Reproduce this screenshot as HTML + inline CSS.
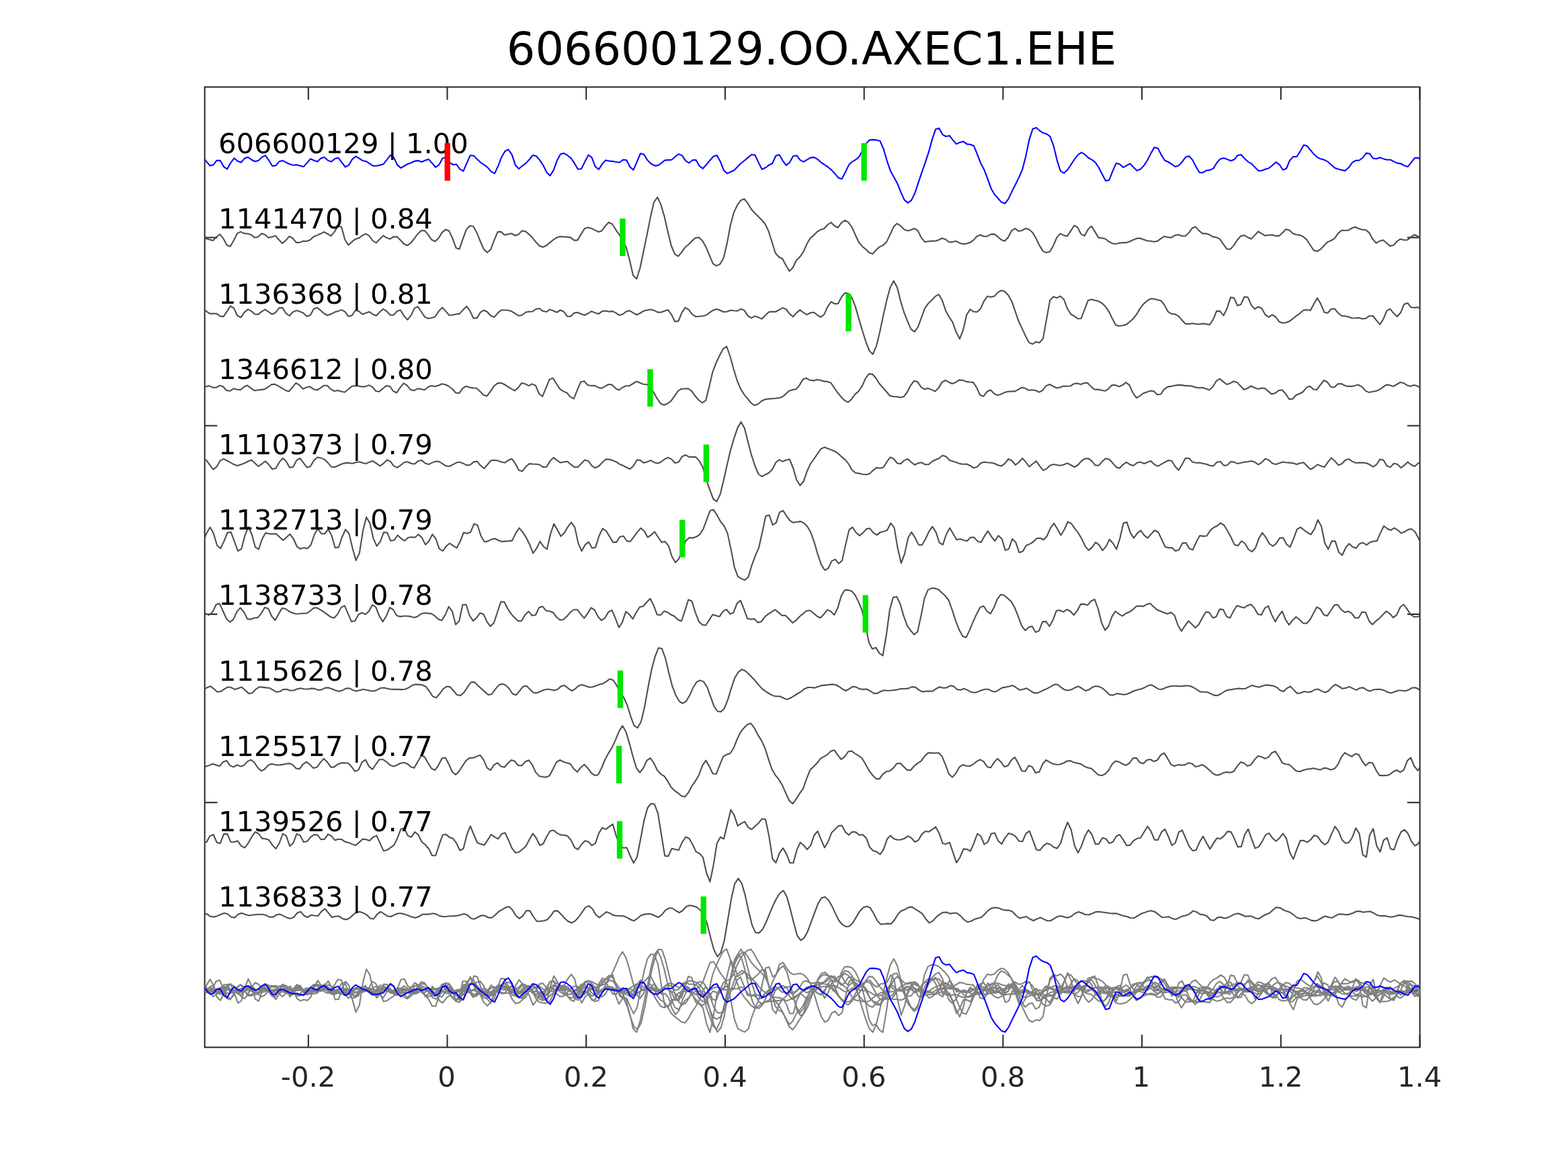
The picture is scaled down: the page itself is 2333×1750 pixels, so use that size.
<!DOCTYPE html>
<html lang="en"><head><meta charset="utf-8"><title>606600129.OO.AXEC1.EHE</title>
<style>html,body{margin:0;padding:0;background:#fff;overflow:hidden}svg{display:block}text{font-family:"DejaVu Sans","Liberation Sans",sans-serif}.ax{fill:none;stroke:#262626;stroke-width:2}.tl{font-size:41.67px;fill:#262626;text-anchor:middle}.lb{font-size:41.67px;fill:#000}.ti{font-size:66.9px;fill:#000;text-anchor:middle}.tr{fill:none;stroke:#4d4d4d;stroke-width:2.08;stroke-linejoin:round;stroke-linecap:butt}.bl{fill:none;stroke:#0000ff;stroke-width:2.08;stroke-linejoin:round;stroke-linecap:butt}.ov{fill:none;stroke:#808080;stroke-width:2.08;stroke-linejoin:round;stroke-linecap:butt}.gm{stroke:#00e600;stroke-width:8.33;fill:none}.rm{stroke:#ff0000;stroke-width:8.33;fill:none}</style></head><body>
<svg width="2333" height="1750" viewBox="0 0 2333 1750">
<rect width="2333" height="1750" fill="#fff"/>
<clipPath id="c"><rect x="304.6" y="129.6" width="1808.0" height="1428.9"/></clipPath>
<path class="ax" d="M304.6,129.6H2112.6V1558.5H304.6Z"/>
<path class="ax" d="M458.8,1558.5v-18.8M458.8,129.6v18.8M665.5,1558.5v-18.8M665.5,129.6v18.8M872.2,1558.5v-18.8M872.2,129.6v18.8M1078.9,1558.5v-18.8M1078.9,129.6v18.8M1285.7,1558.5v-18.8M1285.7,129.6v18.8M1492.4,1558.5v-18.8M1492.4,129.6v18.8M1699.1,1558.5v-18.8M1699.1,129.6v18.8M1905.8,1558.5v-18.8M1905.8,129.6v18.8M2112.5,1558.5v-18.8M2112.5,129.6v18.8M304.6,353.4h18.8M2112.6,353.4h-18.8M304.6,633.6h18.8M2112.6,633.6h-18.8M304.6,913.9h18.8M2112.6,913.9h-18.8M304.6,1194.2h18.8M2112.6,1194.2h-18.8M304.6,1474.4h18.8M2112.6,1474.4h-18.8"/>
<text class="tl" x="458.5" y="1616.6">-0.2</text>
<text class="tl" x="664.4" y="1616.6">0</text>
<text class="tl" x="871.9" y="1616.6">0.2</text>
<text class="tl" x="1078.6" y="1616.6">0.4</text>
<text class="tl" x="1285.4" y="1616.6">0.6</text>
<text class="tl" x="1492.1" y="1616.6">0.8</text>
<text class="tl" x="1698.0" y="1616.6">1</text>
<text class="tl" x="1905.5" y="1616.6">1.2</text>
<text class="tl" x="2112.2" y="1616.6">1.4</text>
<text class="ti" x="1207.5" y="96.0">606600129.OO.AXEC1.EHE</text>
<g clip-path="url(#c)">
<polyline class="bl" points="304.6,237.3 312.2,246.4 317.4,245.4 322.5,238.7 327.7,238.9 332.9,248.1 338.0,251.6 343.2,242.3 348.4,235.4 353.5,239.8 358.7,241.8 363.9,235.6 369.0,233.9 374.2,237.7 379.4,240.2 384.5,238.9 389.7,233.9 394.9,231.4 400.0,238.7 405.2,247.0 410.4,246.4 415.5,240.2 420.7,239.1 425.9,241.8 431.0,244.3 436.2,245.8 441.4,245.2 446.5,246.8 451.7,248.1 456.9,242.3 462.0,236.4 467.2,238.7 472.4,240.6 477.5,235.6 482.7,233.9 487.9,238.7 493.0,240.6 498.2,236.2 503.4,234.8 508.5,241.6 513.7,248.5 518.9,245.8 524.0,237.1 529.2,232.7 534.4,235.6 539.5,239.1 544.7,240.2 549.9,243.3 555.0,246.8 560.2,246.8 565.4,245.8 570.5,244.3 575.7,237.7 580.9,230.8 586.0,234.6 591.2,245.4 596.4,250.0 601.5,247.0 606.7,243.9 611.9,242.3 617.0,239.8 622.2,239.1 627.4,241.0 632.5,238.7 637.7,236.9 642.9,242.7 648.0,248.9 653.2,245.4 658.4,235.6 663.5,234.4 668.7,241.8 673.9,245.0 679.0,244.5 684.2,251.6 689.4,254.7 694.5,242.9 699.7,231.2 704.9,231.7 710.0,237.1 715.2,241.8 720.4,245.4 725.5,249.1 730.7,255.4 735.9,258.1 741.0,247.5 746.2,233.9 751.4,225.0 756.5,222.5 761.7,230.2 766.9,245.8 772.0,251.2 777.2,246.8 782.4,242.9 787.5,237.5 792.7,231.0 797.9,232.3 803.0,238.1 808.2,246.0 813.4,256.4 818.5,261.4 823.7,253.1 828.9,238.7 834.0,229.2 839.2,228.1 844.4,231.2 849.5,235.4 854.7,242.9 859.9,251.8 865.0,251.2 870.2,240.8 875.4,230.6 880.5,234.4 885.7,247.9 890.9,252.2 896.0,243.9 901.2,238.5 906.4,239.6 911.5,240.0 916.7,241.0 921.9,241.8 927.0,237.7 932.2,238.3 937.4,248.5 942.5,252.9 947.7,240.8 952.9,228.5 958.0,229.8 963.2,238.1 968.4,243.5 973.5,246.4 978.7,246.4 983.9,242.9 989.0,238.5 994.2,238.1 999.4,237.7 1004.5,233.3 1009.7,229.2 1014.9,231.4 1020.0,239.1 1025.2,242.5 1030.4,238.3 1035.5,238.1 1040.7,247.2 1045.9,250.8 1051.0,245.0 1056.2,238.7 1061.4,232.7 1066.5,231.0 1071.7,240.2 1076.9,253.7 1082.0,258.1 1087.2,255.8 1092.4,253.3 1097.5,248.1 1102.7,242.7 1107.9,238.7 1113.0,234.4 1118.2,230.0 1123.4,230.8 1128.5,241.6 1133.7,252.0 1138.9,249.5 1144.0,245.8 1149.2,243.3 1154.4,231.7 1159.5,230.2 1164.7,239.3 1169.9,246.0 1175.0,241.6 1180.2,232.3 1185.4,231.4 1190.5,238.1 1195.7,240.8 1200.9,237.7 1206.0,234.6 1211.2,234.1 1216.4,236.9 1221.5,241.6 1226.7,245.2 1231.9,248.5 1237.0,252.9 1242.2,258.3 1247.4,264.7 1252.5,266.2 1257.7,256.4 1262.9,245.6 1268.0,240.6 1273.2,237.7 1278.4,232.9 1283.5,223.5 1288.7,213.6 1293.9,208.2 1299.0,207.9 1304.2,208.4 1309.4,209.8 1314.5,221.5 1319.7,239.1 1324.9,254.3 1330.0,263.5 1335.2,273.0 1340.4,285.9 1345.5,297.4 1350.7,301.9 1355.9,298.4 1361.0,288.0 1366.2,272.4 1371.4,256.8 1376.5,242.3 1381.7,226.7 1386.9,207.9 1392.0,192.4 1397.2,190.7 1402.4,200.3 1407.5,203.0 1412.7,201.9 1417.9,208.6 1423.0,214.4 1428.2,211.9 1433.4,210.6 1438.5,214.4 1443.7,215.0 1448.9,216.9 1454.0,229.4 1459.2,242.9 1464.4,252.7 1469.5,266.2 1474.7,280.7 1479.9,289.5 1485.0,295.3 1490.2,301.1 1495.4,302.8 1500.5,295.9 1505.7,284.9 1510.9,274.5 1516.0,264.1 1521.2,252.2 1526.4,231.9 1531.5,207.3 1536.7,191.7 1541.9,189.9 1547.0,194.6 1552.2,197.8 1557.4,199.4 1562.5,203.2 1567.7,217.3 1572.9,239.1 1578.0,254.7 1583.2,257.6 1588.4,252.7 1593.5,245.0 1598.7,237.1 1603.9,230.4 1609.0,226.9 1614.2,229.8 1619.4,235.0 1624.5,237.7 1629.7,241.6 1634.9,249.5 1640.0,259.5 1645.2,269.3 1650.4,267.8 1655.5,254.7 1660.7,242.9 1665.9,244.3 1671.0,249.1 1676.2,246.4 1681.4,243.5 1686.5,248.9 1691.7,253.9 1696.9,251.8 1702.0,246.4 1707.2,238.5 1712.4,228.1 1717.5,219.4 1722.7,220.4 1727.9,230.4 1733.0,238.7 1738.2,241.0 1743.4,244.3 1748.5,247.9 1753.7,246.6 1758.9,240.8 1764.0,233.9 1769.2,232.3 1774.4,238.1 1779.5,248.1 1784.7,256.8 1789.9,256.8 1795.0,253.7 1800.2,253.1 1805.4,250.6 1810.5,242.3 1815.7,236.4 1820.9,235.2 1826.0,237.1 1831.2,239.3 1836.4,237.5 1841.5,231.2 1846.7,230.2 1851.9,236.0 1857.0,240.8 1862.2,243.7 1867.4,249.1 1872.5,254.3 1877.7,253.7 1882.9,251.8 1888.0,250.2 1893.2,246.0 1898.4,241.2 1903.5,244.8 1908.7,252.7 1913.9,251.0 1919.0,238.7 1924.2,233.1 1929.4,233.3 1934.5,225.2 1939.7,215.8 1944.9,217.3 1950.0,223.5 1955.2,229.8 1960.4,234.4 1965.5,236.6 1970.7,238.1 1975.9,240.8 1981.0,245.4 1986.2,250.0 1991.4,251.8 1996.5,253.1 2001.7,253.9 2006.9,249.1 2012.0,241.8 2017.2,238.9 2022.4,238.5 2027.5,235.0 2032.7,227.9 2037.9,228.7 2043.0,235.6 2048.2,236.2 2053.4,234.4 2058.5,236.4 2063.7,237.7 2068.9,237.7 2074.0,240.6 2079.2,242.9 2084.4,243.5 2089.5,246.6 2094.7,248.1 2099.9,241.6 2105.0,235.0 2110.2,234.8 2112.6,237.1"/>
<polyline class="tr" points="304.6,353.8 306.5,355.1 311.6,356.5 316.8,358.0 322.0,352.8 327.1,348.6 332.3,354.9 337.5,364.7 342.6,366.7 347.8,357.8 353.0,347.4 358.1,344.9 363.3,347.4 368.5,347.8 373.6,349.3 378.8,353.6 384.0,352.4 389.1,347.4 394.3,349.3 399.5,353.8 404.6,352.6 409.8,350.9 415.0,356.8 420.1,362.2 425.3,357.6 430.5,351.6 435.6,354.5 440.8,360.9 446.0,360.9 451.1,358.8 456.3,359.0 461.5,357.0 466.6,352.2 471.8,350.1 477.0,347.8 482.1,345.1 487.3,348.0 492.5,351.1 497.6,344.9 502.8,336.6 508.0,337.6 513.1,356.3 518.3,364.7 523.5,359.9 528.6,355.9 533.8,354.3 539.0,350.5 544.1,347.8 549.3,350.9 554.5,358.0 559.6,361.5 564.8,355.9 570.0,350.7 575.1,353.6 580.3,355.7 585.5,352.4 590.6,352.2 595.8,357.2 601.0,363.0 606.1,365.3 611.3,361.5 616.5,354.9 621.6,348.0 626.8,343.0 632.0,343.4 637.1,349.3 642.3,356.8 647.5,359.2 652.6,354.3 657.8,345.9 663.0,341.6 668.1,343.4 673.3,354.7 678.5,369.0 683.6,370.7 688.8,355.3 694.0,341.4 699.1,336.0 704.3,337.0 709.5,346.4 714.6,359.0 719.8,370.9 725.0,375.7 730.1,371.3 735.3,357.4 740.5,345.1 745.6,344.9 750.8,349.7 756.0,348.4 761.1,347.4 766.3,350.5 771.5,348.9 776.6,343.4 781.8,344.3 787.0,348.6 792.1,353.8 797.3,360.1 802.5,365.7 807.6,367.8 812.8,365.5 818.0,361.1 823.1,357.0 828.3,353.6 833.5,352.0 838.7,352.4 843.8,352.6 849.0,353.4 854.2,357.6 859.3,357.4 864.5,348.6 869.7,340.3 874.8,338.5 880.0,339.9 885.2,342.4 890.3,345.1 895.5,343.4 900.7,336.2 905.8,330.8 911.0,333.5 916.2,341.8 921.3,349.1 926.5,358.4 931.7,367.8 936.8,386.9 942.0,409.8 947.2,415.0 952.3,399.0 957.5,374.0 962.7,349.1 967.8,323.1 973.0,300.8 978.2,293.5 983.3,304.4 988.5,322.0 993.7,344.9 998.8,365.7 1004.0,378.2 1009.2,381.3 1014.3,375.1 1019.5,367.8 1024.7,363.8 1029.8,358.4 1035.0,353.8 1040.2,353.6 1045.3,358.4 1050.5,367.8 1055.7,380.2 1060.8,392.3 1066.0,395.6 1071.2,393.1 1076.3,384.8 1081.5,363.6 1086.7,335.5 1091.8,316.4 1097.0,305.4 1102.2,298.1 1107.3,296.0 1112.5,302.3 1117.7,311.2 1122.8,316.8 1128.0,322.0 1133.2,327.2 1138.3,333.0 1143.5,343.9 1148.7,360.5 1153.8,376.7 1159.0,382.5 1164.2,385.0 1169.3,394.8 1174.5,403.5 1179.7,398.3 1184.8,387.5 1190.0,382.3 1195.2,375.1 1200.3,363.6 1205.5,354.5 1210.7,350.1 1215.8,344.9 1221.0,341.8 1226.2,340.3 1231.3,334.5 1236.5,331.0 1241.7,336.2 1246.8,338.7 1252.0,331.4 1257.2,327.8 1262.3,330.8 1267.5,338.0 1272.7,349.7 1277.8,360.5 1283.0,366.7 1288.2,370.9 1293.3,376.1 1298.5,377.8 1303.7,371.9 1308.8,367.1 1314.0,365.1 1319.2,359.9 1324.3,349.1 1329.5,337.6 1334.7,332.6 1339.8,336.0 1345.0,341.2 1350.2,343.4 1355.3,342.2 1360.5,339.9 1365.7,343.4 1370.8,353.8 1376.0,359.9 1381.2,359.2 1386.3,358.6 1391.5,358.8 1396.7,357.0 1401.8,354.5 1407.0,356.3 1412.2,360.5 1417.3,359.9 1422.5,358.8 1427.7,361.5 1432.8,363.2 1438.0,362.6 1443.2,361.1 1448.3,357.4 1453.5,351.8 1458.7,349.5 1463.8,351.8 1469.0,351.6 1474.2,348.6 1479.3,348.4 1484.5,352.2 1489.7,356.8 1494.8,358.8 1500.0,353.2 1505.2,343.2 1510.3,340.1 1515.5,343.9 1520.7,343.0 1525.8,339.9 1531.0,341.2 1536.2,345.9 1541.3,354.3 1546.5,365.1 1551.7,373.6 1556.8,376.1 1562.0,374.6 1567.2,365.7 1572.3,353.6 1577.5,347.6 1582.7,350.1 1587.8,351.6 1593.0,343.9 1598.2,335.7 1603.3,338.2 1608.5,348.4 1613.7,350.9 1618.8,341.4 1624.0,336.6 1629.2,344.9 1634.3,353.6 1639.5,354.3 1644.7,355.5 1649.8,359.5 1655.0,362.2 1660.2,363.0 1665.3,361.7 1670.5,361.1 1675.7,361.1 1680.8,359.5 1686.0,357.0 1691.2,354.9 1696.3,354.5 1701.5,356.5 1706.7,358.2 1711.8,358.8 1717.0,359.7 1722.2,358.8 1727.3,354.9 1732.5,351.8 1737.7,353.0 1742.8,353.6 1748.0,350.3 1753.2,349.3 1758.3,351.1 1763.5,351.3 1768.7,346.6 1773.8,339.5 1779.0,337.6 1784.2,343.4 1789.3,347.6 1794.5,347.6 1799.7,349.3 1804.8,352.4 1810.0,353.2 1815.2,355.9 1820.3,363.6 1825.5,370.7 1830.7,370.7 1835.8,365.1 1841.0,357.0 1846.2,351.3 1851.3,350.1 1856.5,353.2 1861.7,355.5 1866.8,350.1 1872.0,344.5 1877.2,347.6 1882.3,350.7 1887.5,349.7 1892.7,349.5 1897.8,350.9 1903.0,351.1 1908.2,346.4 1913.3,341.2 1918.5,342.6 1923.7,347.6 1928.8,349.3 1934.0,349.9 1939.2,352.2 1944.3,356.8 1949.5,364.7 1954.7,372.6 1959.8,374.0 1965.0,370.9 1970.2,365.3 1975.3,360.1 1980.5,358.0 1985.7,354.9 1990.8,347.4 1996.0,342.8 2001.2,343.0 2006.3,342.6 2011.5,339.5 2016.7,337.8 2021.8,340.3 2027.0,341.8 2032.2,342.2 2037.3,346.4 2042.5,355.9 2047.7,361.7 2052.8,358.8 2058.0,357.2 2063.2,361.7 2068.3,366.1 2073.5,364.9 2078.7,359.0 2083.8,355.7 2089.0,357.2 2094.2,357.0 2099.3,352.6 2104.5,349.3 2109.7,351.8 2112.6,353.6"/>
<polyline class="tr" points="304.6,461.7 306.7,462.9 311.8,466.7 317.0,466.5 322.2,466.7 327.3,470.4 332.5,471.2 337.7,463.6 342.8,455.4 348.0,458.6 353.2,469.8 358.3,472.3 363.5,464.8 368.7,460.4 373.8,462.9 379.0,467.5 384.2,467.9 389.3,463.6 394.5,460.6 399.7,464.2 404.8,467.7 410.0,465.2 415.2,458.4 420.3,457.9 425.5,466.3 430.7,470.0 435.8,464.2 441.0,462.1 446.2,463.6 451.3,465.8 456.5,470.8 461.7,469.0 466.8,459.8 472.0,457.7 477.2,462.1 482.3,466.7 487.5,469.2 492.7,467.3 497.8,464.6 503.0,463.1 508.2,461.1 513.3,463.8 518.5,470.8 523.7,469.4 528.8,461.7 534.0,463.3 539.2,467.7 544.3,465.8 549.5,464.0 554.7,467.7 559.8,469.8 565.0,464.2 570.2,459.8 575.3,463.1 580.5,468.8 585.7,468.8 590.8,463.1 596.0,461.5 601.2,470.4 606.3,475.8 611.5,469.4 616.7,458.6 621.8,456.3 627.0,464.2 632.2,471.9 637.3,474.0 642.5,473.1 647.7,471.0 652.8,463.1 658.0,457.5 663.2,463.1 668.3,469.0 673.5,468.8 678.7,467.5 683.8,466.9 689.0,461.1 694.2,455.9 699.3,462.7 704.5,473.7 709.7,473.1 714.8,464.8 720.0,461.7 725.2,464.2 730.3,470.0 735.5,471.9 740.7,465.6 745.8,461.5 751.0,461.5 756.2,461.8 761.3,463.3 766.5,466.7 771.7,469.8 776.8,469.0 782.0,464.8 787.2,463.8 792.3,463.6 797.5,460.0 802.7,459.0 807.8,463.1 813.0,464.0 818.2,460.6 823.3,462.5 828.5,464.8 833.7,461.5 838.9,463.8 844.0,470.8 849.2,470.8 854.4,465.6 859.5,465.0 864.7,467.3 869.9,469.0 875.0,466.5 880.2,463.1 885.4,465.6 890.5,467.1 895.7,463.3 900.9,462.5 906.0,463.8 911.2,463.1 916.4,465.6 921.5,469.2 926.7,467.5 931.9,463.6 937.0,462.3 942.2,465.6 947.4,468.5 952.5,466.0 957.7,462.7 962.9,461.5 968.0,460.4 973.2,461.9 978.4,464.6 983.5,464.8 988.7,462.7 993.9,461.1 999.0,467.9 1004.2,478.5 1009.4,477.9 1014.5,465.2 1019.7,457.7 1024.9,461.1 1030.0,467.9 1035.2,471.2 1040.4,470.8 1045.5,470.2 1050.7,469.0 1055.9,465.2 1061.0,461.7 1066.2,460.0 1071.4,461.7 1076.5,464.2 1081.7,463.8 1086.9,461.7 1092.0,462.3 1097.2,462.7 1102.4,459.8 1107.5,461.9 1112.7,470.0 1117.9,473.1 1123.0,470.6 1128.2,472.1 1133.4,474.6 1138.5,469.4 1143.7,464.4 1148.9,463.8 1154.0,464.0 1159.2,461.1 1164.4,458.1 1169.5,460.0 1174.7,466.9 1179.9,471.2 1185.0,465.6 1190.2,461.1 1195.4,465.2 1200.5,468.4 1205.7,465.5 1210.9,464.8 1216.0,468.8 1221.2,471.9 1226.4,467.7 1231.5,456.3 1236.7,449.0 1241.9,452.1 1247.0,451.7 1252.2,441.7 1257.4,435.7 1262.5,437.1 1267.7,443.4 1272.9,456.9 1278.0,474.6 1283.2,492.2 1288.4,508.9 1293.5,522.0 1298.7,527.2 1303.9,515.1 1309.0,494.3 1314.2,469.4 1319.4,446.5 1324.5,427.8 1329.7,418.0 1334.9,427.8 1340.0,448.0 1345.2,465.2 1350.4,478.3 1355.5,489.8 1360.7,493.7 1365.9,486.6 1371.0,472.5 1376.2,458.4 1381.4,451.3 1386.5,446.5 1391.7,440.9 1396.9,438.2 1402.0,447.1 1407.2,462.7 1412.4,471.9 1417.5,479.8 1422.7,494.3 1427.9,504.3 1433.0,491.2 1438.2,468.8 1443.4,460.4 1448.5,463.8 1453.7,464.2 1458.9,459.4 1464.0,448.2 1469.2,440.9 1474.4,441.9 1479.5,440.7 1484.7,435.1 1489.9,432.2 1495.0,433.8 1500.2,439.2 1505.4,448.6 1510.5,463.1 1515.7,478.3 1520.9,489.1 1526.0,500.2 1531.2,509.9 1536.4,512.0 1541.5,508.7 1546.7,509.9 1551.9,504.1 1557.0,475.6 1562.2,446.9 1567.4,441.5 1572.5,443.4 1577.7,440.7 1582.9,445.5 1588.0,459.0 1593.2,467.5 1598.4,470.4 1603.5,474.2 1608.7,474.0 1613.9,460.0 1619.0,446.9 1624.2,445.5 1629.4,447.1 1634.5,448.2 1639.7,451.3 1644.9,456.3 1650.0,463.8 1655.2,474.6 1660.4,483.9 1665.5,485.0 1670.7,484.3 1675.9,482.9 1681.0,478.7 1686.2,474.0 1691.4,467.3 1696.5,458.6 1701.7,452.1 1706.9,447.5 1712.0,444.6 1717.2,444.8 1722.4,446.3 1727.5,447.5 1732.7,454.2 1737.9,463.8 1743.0,467.1 1748.2,467.5 1753.4,470.4 1758.5,476.2 1763.7,481.9 1768.9,482.3 1774.0,481.2 1779.2,482.1 1784.4,482.5 1789.5,481.6 1794.7,482.3 1799.9,483.1 1805.0,475.6 1810.2,462.9 1815.4,463.1 1820.5,469.6 1825.7,459.0 1830.9,442.6 1836.0,443.4 1841.2,454.8 1846.4,452.9 1851.5,441.7 1856.7,442.3 1861.9,454.4 1867.0,459.8 1872.2,456.3 1877.4,459.0 1882.5,468.3 1887.7,471.9 1892.9,468.3 1898.0,471.5 1903.2,478.7 1908.4,480.8 1913.5,480.0 1918.7,478.1 1923.9,474.0 1929.0,469.8 1934.2,466.3 1939.4,461.5 1944.5,461.1 1949.7,462.1 1954.9,452.3 1960.0,443.4 1965.2,452.3 1970.4,464.8 1975.5,465.8 1980.7,459.8 1985.9,459.6 1991.0,465.8 1996.2,470.0 2001.4,470.4 2006.5,471.5 2011.7,473.5 2016.9,473.3 2022.0,472.9 2027.2,474.6 2032.4,473.7 2037.5,470.2 2042.7,470.0 2047.9,476.7 2053.0,482.9 2058.2,475.0 2063.4,462.1 2068.5,459.8 2073.7,466.3 2078.9,471.0 2084.0,465.2 2089.2,452.7 2094.4,450.9 2099.5,457.3 2104.7,457.9 2109.9,457.3 2112.6,459.0"/>
<polyline class="tr" points="304.6,576.2 306.1,575.3 311.2,574.1 316.4,576.6 321.6,576.8 326.7,573.7 331.9,575.3 337.1,581.0 342.2,581.8 347.4,578.3 352.6,579.5 357.7,580.3 362.9,575.8 368.1,573.5 373.2,577.6 378.4,581.2 383.6,580.5 388.7,579.9 393.9,579.1 399.1,575.8 404.2,572.0 409.4,571.8 414.6,574.7 419.7,577.6 424.9,581.0 430.1,582.4 435.2,576.2 440.4,569.9 445.6,573.1 450.7,578.7 455.9,576.6 461.1,575.3 466.2,578.9 471.4,580.5 476.6,577.6 481.7,573.7 486.9,573.7 492.1,578.9 497.2,582.0 502.4,581.0 507.6,582.4 512.7,583.7 517.9,579.5 523.1,575.1 528.2,574.1 533.4,574.5 538.6,575.6 543.7,575.1 548.9,573.1 554.1,575.8 559.2,582.0 564.4,582.8 569.6,578.3 574.7,574.1 579.9,574.7 585.1,582.0 590.2,584.5 595.4,576.6 600.6,570.4 605.7,573.7 610.9,579.9 616.1,581.2 621.2,578.3 626.4,578.9 631.6,580.3 636.7,576.2 641.9,573.9 647.1,575.1 652.2,573.7 657.4,571.2 662.6,572.2 667.7,574.7 672.9,578.7 678.1,584.5 683.2,585.1 688.4,577.8 693.6,574.7 698.7,576.6 703.9,577.2 709.1,577.8 714.2,582.4 719.4,588.0 724.6,589.3 729.7,582.4 734.9,574.7 740.1,570.4 745.2,569.7 750.4,572.0 755.6,575.3 760.7,578.7 765.9,581.4 771.1,576.8 776.2,569.9 781.4,571.2 786.6,574.1 791.7,571.4 796.9,573.7 802.1,586.0 807.2,589.9 812.4,577.2 817.6,564.7 822.8,562.7 827.9,571.0 833.1,578.9 838.3,582.4 843.4,584.5 848.6,590.7 853.8,593.4 858.9,580.3 864.1,568.3 869.3,567.2 874.4,573.1 879.6,574.1 884.8,573.7 889.9,576.6 895.1,577.8 900.3,574.9 905.4,572.0 910.6,572.6 915.8,577.8 920.9,580.5 926.1,576.6 931.3,574.3 936.4,574.1 941.6,571.0 946.8,567.7 951.9,569.5 957.1,571.8 962.3,572.0 967.4,576.2 972.6,583.9 977.8,593.2 982.9,600.5 988.1,602.8 993.3,600.5 998.4,596.6 1003.6,589.3 1008.8,581.8 1013.9,578.7 1019.1,578.5 1024.3,578.3 1029.4,582.4 1034.6,589.7 1039.8,595.5 1044.9,599.5 1050.1,595.9 1055.3,575.1 1060.4,553.3 1065.6,539.8 1070.8,528.8 1075.9,519.2 1081.1,515.5 1086.3,530.0 1091.4,548.7 1096.6,565.8 1101.8,578.3 1106.9,586.6 1112.1,592.8 1117.3,599.5 1122.4,603.2 1127.6,601.5 1132.8,597.0 1137.9,594.5 1143.1,593.6 1148.3,593.2 1153.4,592.8 1158.6,592.2 1163.8,590.7 1168.9,586.6 1174.1,581.4 1179.3,579.9 1184.4,579.3 1189.6,573.1 1194.8,564.3 1199.9,562.8 1205.1,565.8 1210.3,566.4 1215.4,564.9 1220.6,565.8 1225.8,567.4 1230.9,567.9 1236.1,569.5 1241.3,577.2 1246.4,584.5 1251.6,590.7 1256.8,595.9 1261.9,598.6 1267.1,593.9 1272.3,586.6 1277.4,582.4 1282.6,574.7 1287.8,563.1 1292.9,556.4 1298.1,556.8 1303.3,562.7 1308.4,571.0 1313.6,576.8 1318.8,582.8 1323.9,588.7 1329.1,590.3 1334.3,590.3 1339.4,591.6 1344.6,590.3 1349.8,583.5 1354.9,573.5 1360.1,566.8 1365.3,568.3 1370.4,575.8 1375.6,579.3 1380.8,577.8 1385.9,579.9 1391.1,582.4 1396.3,577.6 1401.4,568.9 1406.6,565.8 1411.8,568.7 1416.9,571.0 1422.1,568.9 1427.3,565.4 1432.4,565.8 1437.6,567.9 1442.8,568.5 1447.9,568.9 1453.1,576.6 1458.3,588.0 1463.4,589.7 1468.6,582.8 1473.8,580.3 1478.9,585.5 1484.1,588.2 1489.3,586.6 1494.4,584.1 1499.6,582.8 1504.8,582.4 1509.9,582.4 1515.1,579.7 1520.3,576.6 1525.4,577.8 1530.6,580.8 1535.8,580.3 1540.9,581.0 1546.1,583.7 1551.3,580.8 1556.4,574.1 1561.6,572.0 1566.8,574.7 1571.9,577.2 1577.1,576.6 1582.3,574.5 1587.4,574.7 1592.6,574.5 1597.8,571.2 1602.9,570.4 1608.1,572.0 1613.3,569.9 1618.4,569.9 1623.6,575.6 1628.8,579.7 1633.9,579.5 1639.1,580.8 1644.3,581.8 1649.4,578.3 1654.6,573.1 1659.8,573.1 1664.9,575.3 1670.1,573.1 1675.3,569.1 1680.4,573.1 1685.6,584.5 1690.8,592.2 1695.9,589.3 1701.1,585.3 1706.3,583.5 1711.4,581.6 1716.6,582.0 1721.8,587.2 1726.9,586.8 1732.1,579.3 1737.3,575.6 1742.4,574.9 1747.6,573.7 1752.8,572.9 1757.9,573.1 1763.1,573.9 1768.3,574.1 1773.4,574.5 1778.6,576.4 1783.8,577.2 1788.9,576.8 1794.1,578.5 1799.3,580.3 1804.4,575.8 1809.6,567.2 1814.8,563.7 1819.9,567.9 1825.1,572.0 1830.3,570.4 1835.4,567.4 1840.6,568.9 1845.8,574.5 1850.9,579.7 1856.1,577.8 1861.3,574.5 1866.4,576.8 1871.6,578.9 1876.8,577.6 1881.9,577.8 1887.1,582.4 1892.3,586.6 1897.4,585.1 1902.6,581.0 1907.8,580.3 1912.9,586.2 1918.1,593.9 1923.3,593.6 1928.4,588.0 1933.6,586.0 1938.8,583.0 1943.9,576.6 1949.1,574.7 1954.3,579.5 1959.4,579.9 1964.6,572.6 1969.8,566.0 1974.9,568.5 1980.1,575.8 1985.3,576.2 1990.4,571.4 1995.6,571.0 2000.8,573.7 2005.9,574.9 2011.1,574.9 2016.3,573.7 2021.4,572.6 2026.6,575.8 2031.8,581.6 2036.9,583.9 2042.1,582.8 2047.3,582.0 2052.4,579.9 2057.6,576.2 2062.8,572.6 2067.9,573.3 2073.1,574.9 2078.3,572.0 2083.4,568.9 2088.6,570.1 2093.8,573.5 2098.9,574.7 2104.1,573.1 2109.3,574.5 2112.6,577.2"/>
<polyline class="tr" points="304.6,684.1 306.9,684.7 312.1,691.8 317.3,698.6 322.4,694.5 327.6,685.5 332.8,682.8 337.9,685.5 343.1,688.4 348.3,691.3 353.4,693.0 358.6,691.3 363.8,689.3 368.9,686.8 374.1,684.5 379.3,689.3 384.4,694.0 389.6,690.3 394.8,686.3 399.9,691.3 405.1,698.0 410.3,697.0 415.4,688.2 420.6,681.8 425.8,686.6 430.9,695.7 436.1,694.9 441.3,685.1 446.4,681.8 451.6,688.8 456.8,695.7 461.9,694.0 467.1,685.1 472.3,680.5 477.4,681.6 482.6,683.6 487.8,688.6 492.9,694.7 498.1,695.3 503.3,692.8 508.4,690.5 513.6,689.0 518.8,688.8 523.9,689.7 529.1,688.2 534.3,687.2 539.4,688.8 544.6,689.9 549.8,687.6 554.9,686.1 560.1,689.7 565.3,693.4 570.4,689.9 575.6,684.5 580.8,686.6 585.9,693.4 591.1,695.9 596.3,692.2 601.4,688.0 606.6,687.2 611.8,689.7 616.9,690.5 622.1,686.1 627.3,684.9 632.4,689.3 637.6,691.1 642.8,688.6 647.9,686.6 653.1,686.8 658.3,689.9 663.4,693.4 668.6,694.0 673.8,691.3 678.9,688.6 684.1,687.6 689.3,689.7 694.4,692.4 699.6,691.8 704.8,687.4 709.9,686.6 715.1,692.8 720.3,697.2 725.4,691.3 730.6,685.3 735.8,684.7 740.9,685.5 746.1,687.6 751.3,688.6 756.4,684.8 761.6,682.8 766.8,689.9 771.9,699.7 777.1,701.3 782.3,694.7 787.4,690.1 792.6,690.5 797.8,690.7 802.9,691.5 808.1,695.1 813.3,694.7 818.4,686.1 823.6,680.9 828.8,685.1 833.9,688.6 839.1,687.2 844.3,686.8 849.4,691.3 854.6,695.1 859.8,694.9 864.9,689.7 870.1,684.5 875.3,685.9 880.4,693.0 885.6,696.3 890.8,693.8 895.9,688.4 901.1,683.6 906.3,683.6 911.4,685.1 916.6,687.2 921.8,690.7 926.9,692.8 932.1,695.5 937.3,698.0 942.4,693.4 947.6,684.5 952.8,684.9 957.9,688.8 963.1,687.2 968.3,685.1 973.4,688.2 978.6,689.5 983.8,687.2 988.9,683.2 994.1,680.9 999.3,683.4 1004.4,689.0 1009.6,687.8 1014.8,679.5 1019.9,677.0 1025.1,679.9 1030.3,680.1 1035.4,680.1 1040.6,686.1 1045.8,695.5 1050.9,714.2 1056.1,728.8 1061.3,742.7 1066.4,746.4 1071.6,735.4 1076.8,714.2 1081.9,691.3 1087.1,669.5 1092.3,651.8 1097.4,636.6 1102.6,627.9 1107.8,637.3 1112.9,657.4 1118.1,677.4 1123.3,693.0 1128.4,705.5 1133.6,709.0 1138.8,706.3 1143.9,703.8 1149.1,698.6 1154.3,688.2 1159.4,684.1 1164.6,686.8 1169.8,684.5 1174.9,683.6 1180.1,696.5 1185.3,714.2 1190.4,722.5 1195.6,716.3 1200.8,701.2 1205.9,690.1 1211.1,683.0 1216.3,675.3 1221.4,668.0 1226.6,665.6 1231.8,667.4 1236.9,669.5 1242.1,671.4 1247.3,675.1 1252.4,679.9 1257.6,684.1 1262.8,690.7 1267.9,699.7 1273.1,703.8 1278.3,704.4 1283.4,705.7 1288.6,706.3 1293.8,704.9 1298.9,700.1 1304.1,695.9 1309.3,696.7 1314.4,695.5 1319.6,687.2 1324.8,680.3 1329.9,683.0 1335.1,689.5 1340.3,690.1 1345.4,685.1 1350.6,683.0 1355.8,687.8 1360.9,691.8 1366.1,689.3 1371.3,688.2 1376.4,691.3 1381.6,691.3 1386.8,686.8 1391.9,684.3 1397.1,682.0 1402.3,677.8 1407.4,679.3 1412.6,684.7 1417.8,686.6 1422.9,688.0 1428.1,690.1 1433.3,690.7 1438.4,690.5 1443.6,693.0 1448.8,696.3 1453.9,694.7 1459.1,689.3 1464.3,687.6 1469.4,688.2 1474.6,688.6 1479.8,689.7 1484.9,692.2 1490.1,693.4 1495.3,689.7 1500.4,683.0 1505.6,685.5 1510.8,691.8 1515.9,688.0 1521.1,682.0 1526.3,687.6 1531.4,694.5 1536.6,690.3 1541.8,686.1 1546.9,693.4 1552.1,699.9 1557.3,697.6 1562.4,692.4 1567.6,691.1 1572.8,692.0 1577.9,692.8 1583.1,691.3 1588.3,689.3 1593.4,692.0 1598.6,695.1 1603.8,692.0 1608.9,686.1 1614.1,682.6 1619.3,682.2 1624.4,686.1 1629.6,692.4 1634.8,692.8 1639.9,686.6 1645.1,682.2 1650.3,683.6 1655.4,688.8 1660.6,694.9 1665.8,696.7 1670.9,691.3 1676.1,687.8 1681.3,691.3 1686.4,693.0 1691.6,688.8 1696.8,687.6 1701.9,689.9 1707.1,688.0 1712.3,685.9 1717.4,690.9 1722.6,693.8 1727.8,690.9 1732.9,687.8 1738.1,685.1 1743.3,685.7 1748.4,694.0 1753.6,699.7 1758.8,691.3 1763.9,681.8 1769.1,682.0 1774.3,687.6 1779.4,688.8 1784.6,688.6 1789.8,689.7 1794.9,690.7 1800.1,692.8 1805.3,693.4 1810.4,688.0 1815.6,686.8 1820.8,692.6 1825.9,692.4 1831.1,687.0 1836.3,687.6 1841.4,689.9 1846.6,688.8 1851.8,687.6 1856.9,687.0 1862.1,685.9 1867.3,687.8 1872.4,691.5 1877.6,687.8 1882.8,682.6 1887.9,684.7 1893.1,689.5 1898.3,690.9 1903.4,689.3 1908.6,687.6 1913.8,688.2 1918.9,688.6 1924.1,689.3 1929.3,690.9 1934.4,689.3 1939.6,688.2 1944.8,693.4 1949.9,698.6 1955.1,695.5 1960.3,691.3 1965.4,693.4 1970.6,695.1 1975.8,687.6 1980.9,681.4 1986.1,686.1 1991.3,692.2 1996.4,690.3 2001.6,684.7 2006.8,683.0 2011.9,686.6 2017.1,688.8 2022.3,688.6 2027.4,688.6 2032.6,689.0 2037.8,691.3 2042.9,694.7 2048.1,691.3 2053.3,683.4 2058.4,684.7 2063.6,693.4 2068.8,695.1 2073.9,689.7 2079.1,690.7 2084.3,696.1 2089.4,692.4 2094.6,687.6 2099.8,691.8 2104.9,694.0 2110.1,689.3 2112.6,688.2"/>
<polyline class="tr" points="304.6,800.2 307.5,793.4 312.6,784.6 317.8,794.0 323.0,811.7 328.1,816.2 333.3,805.4 338.5,792.5 343.6,791.9 348.8,805.8 354.0,820.0 359.1,816.9 364.3,797.1 369.5,784.2 374.6,795.0 379.8,814.1 385.0,817.3 390.1,801.7 395.3,792.9 400.5,794.4 405.6,794.6 410.8,794.2 416.0,799.2 421.1,804.0 426.3,799.6 431.5,794.8 436.6,801.7 441.8,813.3 447.0,816.9 452.1,815.0 457.3,816.2 462.5,811.0 467.6,796.1 472.8,786.7 478.0,794.0 483.1,794.4 488.3,787.3 493.5,797.1 498.6,815.0 503.8,814.4 509.0,799.2 514.1,787.9 519.3,794.0 524.5,815.8 529.6,833.9 534.8,823.1 540.0,789.8 545.1,769.6 550.3,778.4 555.5,801.3 560.6,812.7 565.8,805.8 571.0,792.1 576.1,792.5 581.3,804.8 586.5,803.8 591.6,796.5 596.8,801.3 602.0,804.8 607.1,800.0 612.3,799.2 617.5,799.8 622.6,795.2 627.8,800.2 633.0,810.6 638.1,805.4 643.3,795.2 648.5,801.9 653.6,816.6 658.8,820.0 664.0,812.7 669.1,808.5 674.3,812.1 679.5,815.4 684.6,805.8 689.8,792.5 695.0,793.8 700.1,792.1 705.3,779.6 710.5,781.5 715.6,797.5 720.8,806.2 726.0,805.4 731.1,802.7 736.3,801.5 741.5,804.0 746.6,806.0 751.8,805.4 757.0,805.1 762.1,804.4 767.3,793.6 772.5,785.7 777.6,791.9 782.8,799.6 788.0,810.2 793.1,823.1 798.3,816.2 803.5,805.6 808.6,813.3 813.8,817.3 819.0,795.0 824.1,779.6 829.3,788.4 834.5,798.1 839.7,792.9 844.8,784.2 850.0,777.3 855.2,784.6 860.3,808.1 865.5,820.0 870.7,810.6 875.8,806.5 881.0,815.8 886.2,814.4 891.3,797.5 896.5,786.7 901.7,789.8 906.8,798.1 912.0,806.9 917.2,806.9 922.3,798.8 927.5,797.7 932.7,805.0 937.8,805.8 943.0,798.8 948.2,791.9 953.3,785.9 958.5,790.2 963.7,799.6 968.8,796.1 974.0,791.3 979.2,799.2 984.3,806.9 989.5,805.8 994.7,812.3 999.8,828.3 1005.0,837.0 1010.2,831.4 1015.3,815.8 1020.5,804.8 1025.7,800.0 1030.8,800.6 1036.0,798.8 1041.2,795.4 1046.3,787.3 1051.5,773.2 1056.7,759.7 1061.8,758.6 1067.0,766.9 1072.2,776.3 1077.3,782.5 1082.5,793.6 1087.7,817.9 1092.8,844.3 1098.0,858.2 1103.2,861.1 1108.3,863.2 1113.5,858.4 1118.7,840.8 1123.8,827.2 1129.0,815.2 1134.2,791.9 1139.3,768.0 1144.5,766.5 1149.7,781.1 1154.8,777.8 1160.0,762.2 1165.2,759.9 1170.3,768.0 1175.5,774.8 1180.7,777.8 1185.8,776.7 1191.0,775.9 1196.2,778.4 1201.3,783.6 1206.5,792.7 1211.7,807.5 1216.8,825.2 1222.0,840.4 1227.2,848.5 1232.3,845.8 1237.5,834.9 1242.7,832.4 1247.8,838.7 1253.0,834.1 1258.2,810.6 1263.3,788.4 1268.5,784.6 1273.7,792.5 1278.8,797.1 1284.0,792.9 1289.2,787.1 1294.3,786.3 1299.5,792.9 1304.7,796.1 1309.8,791.9 1315.0,790.9 1320.2,788.8 1325.3,778.4 1330.5,785.2 1335.7,815.8 1340.8,838.1 1346.0,824.1 1351.2,800.2 1356.3,791.9 1361.5,800.2 1366.7,810.6 1371.8,811.0 1377.0,802.3 1382.2,790.9 1387.3,783.6 1392.5,791.9 1397.7,807.5 1402.8,810.6 1408.0,795.0 1413.2,785.7 1418.3,794.6 1423.5,803.3 1428.7,801.9 1433.8,804.0 1439.0,805.0 1444.2,799.8 1449.3,799.6 1454.5,805.4 1459.7,806.9 1464.8,797.7 1470.0,790.2 1475.2,798.6 1480.3,805.0 1485.5,797.1 1490.7,801.9 1495.8,818.9 1501.0,816.9 1506.2,801.9 1511.3,806.9 1516.5,822.3 1521.7,820.6 1526.8,811.7 1532.0,809.6 1537.2,806.5 1542.3,801.3 1547.5,800.8 1552.7,803.3 1557.8,797.7 1563.0,785.7 1568.2,778.8 1573.3,787.3 1578.5,796.5 1583.7,787.7 1588.8,776.5 1594.0,779.0 1599.2,786.7 1604.3,792.9 1609.5,801.9 1614.7,813.1 1619.8,818.9 1625.0,814.4 1630.2,806.9 1635.3,811.0 1640.5,819.1 1645.7,813.1 1650.8,802.7 1656.0,808.5 1661.2,817.3 1666.3,801.3 1671.5,778.4 1676.7,777.1 1681.8,792.9 1687.0,800.6 1692.2,793.4 1697.3,789.4 1702.5,796.7 1707.7,800.6 1712.8,794.6 1718.0,789.2 1723.2,791.7 1728.3,802.3 1733.5,813.7 1738.7,815.2 1743.8,815.0 1749.0,820.0 1754.2,818.1 1759.3,808.1 1764.5,807.7 1769.7,816.4 1774.8,817.9 1780.0,806.5 1785.2,797.1 1790.3,797.9 1795.5,797.5 1800.7,789.4 1805.8,785.0 1811.0,782.5 1816.2,778.4 1821.3,781.5 1826.5,790.2 1831.7,799.8 1836.8,810.6 1842.0,812.1 1847.2,805.0 1852.3,808.5 1857.5,817.5 1862.7,821.0 1867.8,815.8 1873.0,801.3 1878.2,792.9 1883.3,799.6 1888.5,809.0 1893.7,812.7 1898.8,809.0 1904.0,800.6 1909.2,800.2 1914.3,810.0 1919.5,814.1 1924.7,801.7 1929.8,787.7 1935.0,784.6 1940.2,788.8 1945.3,792.5 1950.5,795.4 1955.7,787.3 1960.8,773.6 1966.0,783.0 1971.2,808.5 1976.3,817.1 1981.5,805.2 1986.7,805.4 1991.8,821.4 1997.0,826.2 2002.2,815.2 2007.3,809.0 2012.5,813.7 2017.7,815.8 2022.8,809.2 2028.0,807.5 2033.2,811.0 2038.3,807.1 2043.5,805.6 2048.7,805.0 2053.8,793.4 2059.0,782.7 2064.2,786.7 2069.3,789.0 2074.5,785.7 2079.7,788.8 2084.8,793.4 2090.0,791.3 2095.2,787.9 2100.3,787.3 2105.5,791.5 2110.7,801.3 2112.6,805.4"/>
<polyline class="tr" points="304.6,912.2 306.0,913.3 311.2,915.3 316.4,910.6 321.5,899.7 326.7,898.1 331.9,909.5 337.0,921.0 342.2,925.7 347.4,921.6 352.5,910.1 357.7,904.5 362.9,910.6 368.0,921.0 373.2,921.6 378.4,919.5 383.5,919.1 388.7,912.8 393.9,903.9 399.0,905.4 404.2,916.8 409.4,923.0 414.5,913.7 419.7,904.9 424.9,906.0 430.0,909.7 435.2,912.0 440.4,913.5 445.5,913.3 450.7,912.8 455.9,912.8 461.0,909.7 466.2,904.9 471.4,904.3 476.5,907.4 481.7,910.6 486.9,914.3 492.0,918.2 497.2,919.5 502.4,913.9 507.5,903.9 512.7,901.4 517.9,913.3 523.0,925.1 528.2,924.1 533.4,914.5 538.5,911.6 543.7,914.3 548.9,909.7 554.0,900.2 559.2,903.3 564.4,916.8 569.5,925.1 574.7,916.8 579.9,904.1 585.0,907.0 590.2,916.0 595.4,917.6 600.5,916.8 605.7,916.8 610.9,917.4 616.0,918.9 621.2,917.4 626.4,913.5 631.5,912.2 636.7,912.6 641.9,913.3 647.0,916.4 652.2,921.6 657.4,923.2 662.5,914.9 667.7,902.9 672.9,909.7 678.0,929.5 683.2,924.3 688.4,899.7 693.5,899.7 698.7,916.0 703.9,923.9 709.0,919.5 714.2,912.2 719.4,913.9 724.5,925.3 729.7,932.0 734.9,926.8 740.0,911.2 745.2,895.6 750.4,895.8 755.5,906.0 760.7,913.9 765.9,919.5 771.0,924.1 776.2,923.7 781.4,914.7 786.5,909.9 791.7,916.0 796.9,915.3 802.0,904.3 807.2,902.4 812.4,908.7 817.5,909.5 822.7,911.2 827.9,918.0 833.0,922.6 838.2,922.0 843.4,917.4 848.5,911.2 853.7,907.2 858.9,907.2 864.0,913.9 869.2,919.9 874.4,912.6 879.5,904.3 884.7,907.6 889.9,917.8 895.0,923.2 900.2,919.5 905.4,910.6 910.5,908.1 915.7,920.1 920.9,933.8 926.0,925.7 931.2,910.1 936.4,914.3 941.5,921.0 946.7,911.2 951.9,903.3 957.0,902.2 962.2,896.2 967.4,890.8 972.5,900.8 977.7,914.7 982.9,915.3 988.0,909.3 993.2,911.2 998.4,914.7 1003.5,917.0 1008.7,922.2 1013.9,924.3 1019.0,909.1 1024.2,892.5 1029.4,894.5 1034.5,911.2 1039.7,924.7 1044.9,929.7 1050.0,930.5 1055.2,922.6 1060.4,914.5 1065.5,916.2 1070.7,917.4 1075.9,909.7 1081.0,907.0 1086.2,913.7 1091.4,911.6 1096.5,898.1 1101.7,893.5 1106.9,906.4 1112.0,920.5 1117.2,921.6 1122.4,921.0 1127.5,926.4 1132.7,925.1 1137.9,917.8 1143.0,913.9 1148.2,910.6 1153.4,907.2 1158.5,911.6 1163.7,916.0 1168.9,916.0 1174.0,921.2 1179.2,926.8 1184.4,923.2 1189.5,917.8 1194.7,913.3 1199.9,909.0 1205.0,908.2 1210.2,912.2 1215.4,916.8 1220.5,919.5 1225.7,914.3 1230.9,907.4 1236.0,909.7 1241.2,914.9 1246.4,904.9 1251.5,887.3 1256.7,878.3 1261.9,877.9 1267.0,879.4 1272.2,885.2 1277.4,895.6 1282.5,908.1 1287.7,929.9 1292.9,956.3 1298.0,965.7 1303.2,963.6 1308.4,972.1 1313.5,975.6 1318.7,945.5 1323.9,907.0 1329.0,888.9 1334.2,887.9 1339.4,898.7 1344.5,916.4 1349.7,930.9 1354.9,938.2 1360.0,944.4 1365.2,940.3 1370.4,916.4 1375.5,890.4 1380.7,877.9 1385.9,875.4 1391.0,875.4 1396.2,877.3 1401.4,882.1 1406.5,886.8 1411.7,893.5 1416.9,908.1 1422.0,924.1 1427.2,937.2 1432.4,946.9 1437.5,948.6 1442.7,937.6 1447.9,925.1 1453.0,913.9 1458.2,903.9 1463.4,901.8 1468.5,909.5 1473.7,913.3 1478.9,903.9 1484.0,891.4 1489.2,884.6 1494.4,886.2 1499.5,890.4 1504.7,895.2 1509.9,904.5 1515.0,917.4 1520.2,931.3 1525.4,938.2 1530.5,933.4 1535.7,932.0 1540.9,940.9 1546.0,938.6 1551.2,925.1 1556.4,924.9 1561.5,932.0 1566.7,922.6 1571.9,908.7 1577.0,908.1 1582.2,910.6 1587.4,907.0 1592.5,909.5 1597.7,915.3 1602.9,908.7 1608.0,899.1 1613.2,898.9 1618.4,900.4 1623.5,894.5 1628.7,891.8 1633.9,906.0 1639.0,926.8 1644.2,937.8 1649.4,932.0 1654.5,917.4 1659.7,909.7 1664.9,913.9 1670.0,916.6 1675.2,912.8 1680.4,910.8 1685.5,907.2 1690.7,902.2 1695.9,901.8 1701.0,902.4 1706.2,899.3 1711.4,898.1 1716.5,902.9 1721.7,907.6 1726.9,909.5 1732.0,911.8 1737.2,913.5 1742.4,911.2 1747.5,915.8 1752.7,930.5 1757.9,939.2 1763.0,931.3 1768.2,924.1 1773.4,928.9 1778.5,934.3 1783.7,929.3 1788.9,919.5 1794.0,910.8 1799.2,911.2 1804.4,919.5 1809.5,917.8 1814.7,906.6 1819.9,907.0 1825.0,917.4 1830.2,919.5 1835.4,909.1 1840.5,901.2 1845.7,902.9 1850.9,904.5 1856.0,901.2 1861.2,899.3 1866.4,904.9 1871.5,913.9 1876.7,914.9 1881.9,904.9 1887.0,901.8 1892.2,914.9 1897.4,925.1 1902.5,916.4 1907.7,909.7 1912.9,922.2 1918.0,929.9 1923.2,923.0 1928.4,918.0 1933.5,922.0 1938.7,927.2 1943.9,927.8 1949.0,922.6 1954.2,912.8 1959.4,903.3 1964.5,906.4 1969.7,914.9 1974.9,916.4 1980.0,908.7 1985.2,900.6 1990.4,899.9 1995.5,907.0 2000.7,911.2 2005.9,909.7 2011.0,912.6 2016.2,919.5 2021.4,919.5 2026.5,910.8 2031.7,911.2 2036.9,923.7 2042.0,929.5 2047.2,924.3 2052.4,920.1 2057.5,914.7 2062.7,909.5 2067.9,913.3 2073.0,919.1 2078.2,914.9 2083.4,903.5 2088.5,899.5 2093.7,906.6 2098.9,914.3 2104.0,918.0 2109.2,917.8 2112.6,916.4"/>
<polyline class="tr" points="304.6,1025.3 308.0,1023.2 313.1,1021.1 318.3,1025.3 323.5,1029.8 328.6,1028.8 333.8,1025.3 339.0,1022.3 344.1,1023.2 349.3,1025.9 354.5,1024.2 359.6,1022.6 364.8,1027.3 370.0,1031.9 375.1,1031.5 380.3,1025.9 385.5,1022.3 390.6,1022.6 395.8,1023.4 401.0,1023.8 406.1,1026.7 411.3,1029.8 416.5,1029.0 421.6,1025.9 426.8,1025.7 432.0,1027.8 437.1,1027.3 442.3,1025.3 447.5,1024.2 452.6,1025.3 457.8,1025.5 463.0,1024.4 468.1,1024.8 473.3,1026.9 478.5,1026.3 483.6,1023.6 488.8,1023.4 494.0,1025.3 499.1,1027.3 504.3,1028.8 509.5,1027.3 514.6,1024.4 519.8,1024.2 525.0,1026.9 530.1,1028.4 535.3,1026.9 540.5,1025.7 545.6,1026.7 550.8,1028.0 556.0,1028.4 561.1,1026.7 566.3,1023.8 571.5,1023.6 576.6,1024.8 581.8,1025.7 587.0,1025.9 592.1,1025.9 597.3,1026.1 602.5,1025.7 607.6,1023.6 612.8,1020.1 618.0,1018.6 623.1,1018.6 628.3,1019.2 633.5,1021.7 638.6,1028.4 643.8,1036.3 649.0,1038.4 654.1,1032.5 659.3,1025.3 664.5,1021.5 669.6,1022.1 674.8,1028.0 680.0,1034.0 685.1,1035.0 690.3,1030.5 695.5,1022.6 700.6,1015.5 705.8,1014.9 711.0,1020.1 716.1,1024.8 721.3,1029.4 726.5,1034.0 731.6,1033.0 736.8,1025.9 742.0,1019.6 747.1,1017.8 752.3,1019.4 757.5,1024.8 762.6,1032.5 767.8,1034.2 773.0,1028.4 778.1,1021.7 783.3,1020.5 788.5,1025.7 793.6,1030.7 798.8,1031.1 804.0,1029.0 809.1,1026.7 814.3,1025.5 819.5,1026.3 824.6,1027.3 829.8,1025.7 835.0,1021.1 840.2,1020.1 845.3,1024.2 850.5,1028.0 855.7,1025.3 860.8,1020.5 866.0,1019.0 871.2,1020.7 876.3,1022.6 881.5,1022.3 886.7,1020.5 891.8,1018.6 897.0,1017.4 902.2,1014.2 907.3,1010.3 912.5,1012.2 917.7,1020.1 922.8,1031.5 928.0,1037.7 933.2,1049.2 938.3,1065.8 943.5,1079.9 948.7,1083.1 953.8,1074.1 959.0,1052.3 964.2,1023.2 969.3,997.2 974.5,977.4 979.7,964.3 984.8,965.0 990.0,979.5 995.2,1001.3 1000.3,1021.1 1005.5,1034.6 1010.7,1043.6 1015.8,1046.7 1021.0,1043.6 1026.2,1034.6 1031.3,1023.2 1036.5,1014.9 1041.7,1012.4 1046.8,1014.4 1052.0,1022.1 1057.2,1036.7 1062.3,1050.8 1067.5,1058.5 1072.7,1059.2 1077.8,1054.0 1083.0,1040.9 1088.2,1023.8 1093.3,1008.6 1098.5,1000.3 1103.7,996.1 1108.8,998.2 1114.0,1003.0 1119.2,1008.2 1124.3,1013.8 1129.5,1020.1 1134.7,1025.7 1139.8,1029.4 1145.0,1032.5 1150.2,1035.2 1155.3,1036.3 1160.5,1036.3 1165.7,1038.8 1170.8,1040.9 1176.0,1038.8 1181.2,1035.7 1186.3,1032.5 1191.5,1029.4 1196.7,1025.3 1201.8,1023.0 1207.0,1023.0 1212.2,1023.6 1217.3,1021.7 1222.5,1020.1 1227.7,1019.6 1232.8,1019.0 1238.0,1018.4 1243.2,1019.0 1248.3,1021.5 1253.5,1025.3 1258.7,1028.0 1263.8,1024.8 1269.0,1021.7 1274.2,1022.6 1279.3,1025.3 1284.5,1025.9 1289.7,1025.5 1294.8,1028.4 1300.0,1031.7 1305.2,1031.9 1310.3,1029.0 1315.5,1027.3 1320.7,1027.8 1325.8,1027.5 1331.0,1026.9 1336.2,1025.9 1341.3,1024.8 1346.5,1025.0 1351.7,1024.4 1356.8,1022.1 1362.0,1022.6 1367.2,1026.9 1372.3,1029.4 1377.5,1028.8 1382.7,1028.6 1387.8,1028.4 1393.0,1024.8 1398.2,1022.3 1403.3,1023.8 1408.5,1023.4 1413.7,1020.3 1418.8,1021.1 1424.0,1025.9 1429.2,1026.7 1434.3,1024.8 1439.5,1026.9 1444.7,1029.8 1449.8,1030.7 1455.0,1029.4 1460.2,1027.3 1465.3,1025.7 1470.5,1025.7 1475.7,1028.4 1480.8,1029.6 1486.0,1026.7 1491.2,1023.4 1496.3,1022.6 1501.5,1021.5 1506.7,1019.9 1511.8,1023.2 1517.0,1026.7 1522.2,1025.7 1527.3,1024.2 1532.5,1027.3 1537.7,1030.9 1542.8,1031.5 1548.0,1029.4 1553.2,1026.7 1558.3,1024.6 1563.5,1021.7 1568.7,1018.6 1573.8,1018.8 1579.0,1023.2 1584.2,1026.5 1589.3,1027.3 1594.5,1026.1 1599.7,1023.2 1604.8,1021.3 1610.0,1024.6 1615.2,1028.0 1620.3,1026.3 1625.5,1022.6 1630.7,1020.9 1635.8,1021.9 1641.0,1024.6 1646.2,1029.4 1651.3,1034.2 1656.5,1034.4 1661.7,1032.1 1666.8,1032.7 1672.0,1033.8 1677.2,1032.7 1682.3,1030.5 1687.5,1028.0 1692.7,1026.5 1697.8,1025.3 1703.0,1023.2 1708.2,1020.3 1713.3,1019.2 1718.5,1022.1 1723.7,1025.5 1728.8,1025.7 1734.0,1023.6 1739.2,1021.7 1744.3,1020.7 1749.5,1020.7 1754.7,1021.3 1759.8,1020.9 1765.0,1020.3 1770.2,1020.7 1775.3,1022.8 1780.5,1025.9 1785.7,1029.4 1790.8,1029.8 1796.0,1029.8 1801.2,1032.1 1806.3,1034.6 1811.5,1035.0 1816.7,1032.5 1821.8,1029.0 1827.0,1026.7 1832.2,1026.1 1837.3,1025.3 1842.5,1024.4 1847.7,1025.0 1852.8,1024.8 1858.0,1022.1 1863.2,1019.9 1868.3,1021.5 1873.5,1022.6 1878.7,1020.7 1883.8,1019.2 1889.0,1019.9 1894.2,1020.5 1899.3,1022.6 1904.5,1027.3 1909.7,1029.0 1914.8,1024.2 1920.0,1021.5 1925.2,1026.9 1930.3,1031.9 1935.5,1030.9 1940.7,1029.0 1945.8,1030.0 1951.0,1029.4 1956.2,1026.3 1961.3,1025.5 1966.5,1028.4 1971.7,1030.5 1976.8,1028.0 1982.0,1022.1 1987.2,1018.6 1992.3,1021.5 1997.5,1024.8 2002.7,1023.8 2007.8,1021.9 2013.0,1024.6 2018.2,1026.9 2023.3,1023.8 2028.5,1023.4 2033.7,1026.9 2038.8,1028.4 2044.0,1026.3 2049.2,1025.7 2054.3,1025.9 2059.5,1027.3 2064.7,1030.0 2069.8,1031.3 2075.0,1029.4 2080.2,1027.5 2085.3,1027.5 2090.5,1028.2 2095.7,1026.7 2100.8,1023.6 2106.0,1023.2 2111.2,1025.7 2112.6,1027.3"/>
<polyline class="tr" points="304.6,1140.8 306.2,1140.4 311.3,1138.9 316.5,1136.8 321.7,1138.5 326.8,1140.2 332.0,1133.7 337.2,1131.9 342.3,1139.3 347.5,1141.4 352.7,1138.3 357.8,1140.4 363.0,1138.9 368.2,1133.1 373.3,1130.6 378.5,1134.8 383.7,1142.5 388.8,1147.2 394.0,1144.5 399.2,1138.5 404.3,1136.8 409.5,1138.1 414.7,1138.5 419.8,1137.9 425.0,1136.8 430.2,1136.0 435.3,1137.9 440.5,1143.5 445.7,1144.1 450.8,1137.3 456.0,1133.7 461.2,1137.9 466.3,1142.9 471.5,1141.8 476.7,1134.6 481.8,1128.9 487.0,1134.1 492.2,1141.6 497.3,1141.4 502.5,1137.3 507.7,1135.4 512.8,1135.2 518.0,1135.8 523.2,1141.0 528.3,1147.9 533.5,1145.6 538.7,1134.1 543.8,1130.6 549.0,1140.4 554.2,1145.0 559.3,1137.3 564.5,1130.2 569.7,1130.2 574.8,1133.5 580.0,1138.3 585.2,1140.4 590.3,1138.7 595.5,1136.0 600.7,1134.8 605.8,1136.4 611.0,1141.0 616.2,1142.7 621.3,1134.1 626.5,1124.8 631.7,1126.2 636.8,1135.2 642.0,1143.5 647.2,1146.2 652.3,1138.9 657.5,1128.5 662.7,1127.5 667.8,1137.3 673.0,1148.7 678.2,1152.9 683.3,1147.2 688.5,1139.3 693.7,1131.6 698.8,1127.9 704.0,1127.7 709.2,1125.6 714.3,1123.7 719.5,1130.6 724.7,1142.7 729.8,1146.2 735.0,1138.3 740.2,1135.2 745.3,1140.4 750.5,1141.8 755.7,1136.0 760.8,1131.0 766.0,1132.7 771.2,1139.3 776.3,1139.3 781.5,1133.5 786.7,1131.2 791.8,1137.9 797.0,1149.1 802.2,1154.9 807.3,1156.0 812.5,1156.6 817.7,1154.3 822.8,1144.5 828.0,1134.1 833.2,1131.0 838.4,1133.7 843.5,1135.2 848.7,1136.8 853.9,1144.5 859.0,1148.7 864.2,1142.0 869.4,1137.7 874.5,1142.9 879.7,1150.1 884.9,1153.9 890.0,1152.9 895.2,1142.5 900.4,1130.0 905.5,1120.6 910.7,1112.3 915.9,1100.9 921.0,1088.4 926.2,1080.1 931.4,1089.0 936.5,1106.1 941.7,1125.8 946.9,1142.9 952.0,1149.7 957.2,1142.9 962.4,1131.6 967.5,1128.1 972.7,1135.2 977.9,1146.0 983.0,1151.8 988.2,1154.9 993.4,1162.2 998.5,1171.6 1003.7,1176.4 1008.9,1180.3 1014.0,1184.5 1019.2,1185.7 1024.4,1179.3 1029.5,1169.5 1034.7,1162.2 1039.9,1153.5 1045.0,1139.3 1050.2,1131.6 1055.4,1140.4 1060.5,1151.2 1065.7,1151.8 1070.9,1138.3 1076.0,1126.2 1081.2,1122.7 1086.4,1121.2 1091.5,1113.3 1096.7,1100.2 1101.9,1089.4 1107.0,1083.2 1112.2,1078.0 1117.4,1076.5 1122.5,1083.6 1127.7,1093.6 1132.9,1101.9 1138.0,1112.7 1143.2,1128.9 1148.4,1144.5 1153.5,1153.3 1158.7,1159.7 1163.9,1168.4 1169.0,1179.9 1174.2,1191.3 1179.4,1196.1 1184.5,1189.2 1189.7,1180.9 1194.9,1173.6 1200.0,1159.1 1205.2,1146.1 1210.4,1141.0 1215.5,1135.8 1220.7,1128.9 1225.9,1125.8 1231.0,1123.1 1236.2,1117.7 1241.4,1116.3 1246.5,1123.7 1251.7,1130.0 1256.9,1126.2 1262.0,1118.5 1267.2,1117.5 1272.4,1121.7 1277.5,1124.4 1282.7,1128.5 1287.9,1137.3 1293.0,1146.6 1298.2,1153.5 1303.4,1158.7 1308.5,1159.1 1313.7,1151.8 1318.9,1148.1 1324.0,1147.2 1329.2,1142.9 1334.4,1136.2 1339.5,1135.8 1344.7,1141.0 1349.9,1146.0 1355.0,1146.0 1360.2,1140.0 1365.4,1135.6 1370.5,1132.7 1375.7,1125.4 1380.9,1120.2 1386.0,1120.4 1391.2,1120.8 1396.4,1120.2 1401.5,1125.2 1406.7,1137.9 1411.9,1151.8 1417.0,1156.6 1422.2,1150.8 1427.4,1141.4 1432.5,1138.1 1437.7,1139.8 1442.9,1140.0 1448.0,1137.3 1453.2,1133.1 1458.4,1130.4 1463.5,1133.1 1468.7,1141.0 1473.9,1142.5 1479.0,1134.6 1484.2,1128.9 1489.4,1134.1 1494.5,1141.0 1499.7,1139.3 1504.9,1131.0 1510.0,1126.9 1515.2,1136.2 1520.4,1147.2 1525.5,1147.7 1530.7,1139.3 1535.9,1141.4 1541.0,1150.1 1546.2,1148.7 1551.4,1136.8 1556.5,1131.0 1561.7,1134.1 1566.9,1136.8 1572.0,1137.7 1577.2,1137.5 1582.4,1135.6 1587.5,1132.5 1592.7,1132.1 1597.9,1134.6 1603.0,1135.8 1608.2,1136.8 1613.4,1140.4 1618.5,1142.5 1623.7,1143.5 1628.9,1148.3 1634.0,1153.1 1639.2,1154.1 1644.4,1151.8 1649.5,1146.2 1654.7,1137.3 1659.9,1132.5 1665.0,1133.7 1670.2,1136.8 1675.4,1138.9 1680.5,1135.6 1685.7,1128.3 1690.9,1127.9 1696.0,1134.8 1701.2,1136.2 1706.4,1131.0 1711.5,1130.0 1716.7,1133.1 1721.9,1131.2 1727.0,1123.7 1732.2,1120.6 1737.4,1128.9 1742.5,1137.9 1747.7,1140.0 1752.9,1137.9 1758.0,1138.7 1763.2,1138.1 1768.4,1135.2 1773.5,1136.4 1778.7,1141.0 1783.9,1140.0 1789.0,1137.9 1794.2,1141.4 1799.4,1146.0 1804.5,1150.8 1809.7,1153.5 1814.9,1152.9 1820.0,1150.1 1825.2,1148.9 1830.4,1149.7 1835.5,1148.1 1840.7,1140.4 1845.9,1134.1 1851.0,1135.8 1856.2,1140.0 1861.4,1137.9 1866.5,1130.6 1871.7,1125.0 1876.9,1126.2 1882.0,1128.9 1887.2,1126.9 1892.4,1120.2 1897.5,1118.1 1902.7,1125.8 1907.9,1135.2 1913.0,1137.3 1918.2,1137.7 1923.4,1142.5 1928.5,1147.2 1933.7,1148.3 1938.9,1146.2 1944.0,1144.7 1949.2,1144.1 1954.4,1143.3 1959.5,1144.5 1964.7,1145.6 1969.9,1142.9 1975.0,1143.5 1980.2,1145.6 1985.4,1144.1 1990.5,1137.9 1995.7,1126.9 2000.9,1120.2 2006.0,1123.3 2011.2,1125.8 2016.4,1121.9 2021.5,1122.7 2026.7,1132.5 2031.9,1139.3 2037.0,1134.8 2042.2,1135.2 2047.4,1146.0 2052.5,1153.9 2057.7,1154.1 2062.9,1153.9 2068.0,1152.4 2073.2,1148.3 2078.4,1146.0 2083.5,1149.1 2088.7,1145.6 2093.9,1132.1 2099.0,1127.5 2104.2,1140.0 2109.4,1146.6 2112.6,1142.5"/>
<polyline class="tr" points="304.6,1252.4 307.2,1253.4 312.3,1244.1 317.5,1242.0 322.7,1253.8 327.8,1254.9 333.0,1241.1 338.2,1241.1 343.3,1252.8 348.5,1253.0 353.7,1251.3 358.8,1258.8 364.0,1261.7 369.2,1254.9 374.3,1245.7 379.5,1238.0 384.7,1240.5 389.8,1247.6 395.0,1248.2 400.2,1249.9 405.3,1257.6 410.5,1263.0 415.7,1254.5 420.8,1240.5 426.0,1244.1 431.2,1259.2 436.3,1254.5 441.5,1240.9 446.7,1243.4 451.8,1253.0 457.0,1252.0 462.2,1245.7 467.3,1242.0 472.5,1242.6 477.7,1249.3 482.8,1248.8 488.0,1241.4 493.2,1244.1 498.3,1250.3 503.5,1248.8 508.7,1249.3 513.8,1252.8 519.0,1254.0 524.2,1256.1 529.3,1258.0 534.5,1253.4 539.7,1248.6 544.8,1249.3 550.0,1250.9 555.2,1245.7 560.3,1243.4 565.5,1254.9 570.7,1266.1 575.8,1265.1 581.0,1261.3 586.2,1257.6 591.3,1247.2 596.5,1233.7 601.7,1232.6 606.8,1243.6 612.0,1245.7 617.2,1238.2 622.3,1242.0 627.5,1252.8 632.7,1257.0 637.8,1262.8 643.0,1273.0 648.2,1273.2 653.3,1257.6 658.5,1242.6 663.7,1241.6 668.8,1246.1 674.0,1247.8 679.2,1254.9 684.3,1265.5 689.5,1262.8 694.7,1242.0 699.8,1229.3 705.0,1242.0 710.2,1254.0 715.3,1256.1 720.5,1257.6 725.7,1249.9 730.8,1241.8 736.0,1245.7 741.2,1248.4 746.3,1240.9 751.5,1239.3 756.7,1250.3 761.8,1262.4 767.0,1269.0 772.2,1268.0 777.3,1263.8 782.5,1259.2 787.7,1249.3 792.8,1240.5 798.0,1247.2 803.2,1258.0 808.3,1255.5 813.5,1244.7 818.7,1236.4 823.8,1235.5 829.0,1239.9 834.2,1242.4 839.4,1242.8 844.5,1244.1 849.7,1250.3 854.9,1261.3 860.0,1264.2 865.2,1256.5 870.4,1251.3 875.5,1252.6 880.7,1258.2 885.9,1254.9 891.0,1239.9 896.2,1231.6 901.4,1234.1 906.5,1230.1 911.7,1226.4 916.9,1244.1 922.0,1257.6 927.2,1261.7 932.4,1261.3 937.5,1273.2 942.7,1284.2 947.9,1275.2 953.0,1249.3 958.2,1221.2 963.4,1202.5 968.5,1195.8 973.7,1196.6 978.9,1210.2 984.0,1242.0 989.2,1273.6 994.4,1274.0 999.5,1262.8 1004.7,1264.0 1009.9,1264.9 1015.0,1253.4 1020.2,1245.5 1025.4,1247.8 1030.5,1256.5 1035.7,1267.6 1040.9,1270.1 1046.0,1275.9 1051.2,1299.2 1056.4,1312.1 1061.5,1287.7 1066.7,1254.9 1071.9,1245.7 1077.0,1248.2 1082.2,1226.4 1087.4,1205.0 1092.5,1213.3 1097.7,1228.9 1102.9,1225.3 1108.0,1222.6 1113.2,1231.2 1118.4,1234.3 1123.5,1229.5 1128.7,1224.7 1133.9,1218.5 1139.0,1219.3 1144.2,1244.1 1149.4,1278.0 1154.5,1284.0 1159.7,1269.4 1164.9,1262.1 1170.0,1270.1 1175.2,1284.0 1180.4,1284.0 1185.5,1264.9 1190.7,1253.8 1195.9,1258.0 1201.0,1264.2 1206.2,1257.9 1211.4,1243.0 1216.5,1236.8 1221.7,1249.3 1226.9,1261.3 1232.0,1253.0 1237.2,1239.3 1242.4,1234.3 1247.5,1228.9 1252.7,1228.5 1257.9,1238.2 1263.0,1242.6 1268.2,1237.8 1273.4,1238.4 1278.5,1242.8 1283.7,1242.0 1288.9,1247.2 1294.0,1260.7 1299.2,1265.9 1304.4,1267.6 1309.5,1271.5 1314.7,1263.8 1319.9,1248.6 1325.0,1243.4 1330.2,1248.2 1335.4,1249.7 1340.5,1249.5 1345.7,1247.8 1350.9,1244.1 1356.0,1246.8 1361.2,1253.0 1366.4,1250.3 1371.5,1241.6 1376.7,1237.0 1381.9,1237.8 1387.0,1234.3 1392.2,1230.5 1397.4,1239.9 1402.5,1254.9 1407.7,1255.9 1412.9,1253.6 1418.0,1268.6 1423.2,1283.8 1428.4,1275.7 1433.5,1263.4 1438.7,1263.8 1443.9,1266.5 1449.0,1254.9 1454.2,1240.5 1459.4,1244.5 1464.5,1256.5 1469.7,1253.0 1474.9,1240.5 1480.0,1239.5 1485.2,1251.3 1490.4,1256.1 1495.5,1246.6 1500.7,1240.1 1505.9,1241.4 1511.0,1244.7 1516.2,1251.8 1521.4,1252.0 1526.5,1240.3 1531.7,1236.6 1536.9,1250.3 1542.0,1264.4 1547.2,1265.3 1552.4,1258.6 1557.5,1255.1 1562.7,1256.5 1567.9,1260.7 1573.0,1262.4 1578.2,1254.5 1583.4,1236.4 1588.5,1223.7 1593.7,1234.7 1598.9,1258.6 1604.0,1269.0 1609.2,1258.6 1614.4,1244.1 1619.5,1235.1 1624.7,1242.0 1629.9,1256.1 1635.0,1255.7 1640.2,1246.8 1645.4,1248.2 1650.5,1254.9 1655.7,1253.0 1660.9,1244.5 1666.0,1242.0 1671.2,1249.7 1676.4,1258.2 1681.5,1257.6 1686.7,1250.9 1691.9,1247.8 1697.0,1246.8 1702.2,1238.2 1707.4,1229.7 1712.5,1236.8 1717.7,1249.7 1722.9,1249.9 1728.0,1238.4 1733.2,1233.9 1738.4,1244.7 1743.5,1258.0 1748.7,1254.5 1753.9,1238.4 1759.0,1235.5 1764.2,1247.6 1769.4,1259.7 1774.5,1265.9 1779.7,1264.9 1784.9,1253.0 1790.0,1244.5 1795.2,1254.5 1800.4,1263.4 1805.5,1254.9 1810.7,1247.2 1815.9,1248.2 1821.0,1244.1 1826.2,1237.4 1831.4,1237.8 1836.5,1247.8 1841.7,1260.3 1846.9,1259.9 1852.0,1242.0 1857.2,1233.9 1862.4,1248.8 1867.5,1262.4 1872.7,1260.1 1877.9,1252.4 1883.0,1242.4 1888.2,1239.9 1893.4,1247.2 1898.5,1251.8 1903.7,1247.2 1908.9,1240.3 1914.0,1247.8 1919.2,1269.0 1924.4,1278.4 1929.5,1263.8 1934.7,1250.7 1939.9,1250.9 1945.0,1253.4 1950.2,1249.5 1955.4,1243.0 1960.5,1244.7 1965.7,1252.4 1970.9,1257.0 1976.0,1253.4 1981.2,1240.9 1986.4,1229.9 1991.5,1236.8 1996.7,1249.7 2001.9,1254.7 2007.0,1253.8 2012.2,1245.7 2017.4,1232.2 2022.5,1240.5 2027.7,1272.1 2032.9,1275.5 2038.0,1242.4 2043.2,1233.2 2048.4,1259.0 2053.5,1267.6 2058.7,1250.3 2063.9,1246.8 2069.0,1263.2 2074.2,1264.4 2079.4,1249.3 2084.5,1238.2 2089.7,1234.7 2094.9,1240.3 2100.0,1252.0 2105.2,1258.6 2110.4,1255.5 2112.6,1251.3"/>
<polyline class="tr" points="304.6,1359.6 307.9,1360.2 313.0,1363.8 318.2,1364.4 323.4,1362.9 328.5,1360.8 333.7,1358.8 338.9,1360.2 344.0,1364.8 349.2,1365.4 354.4,1360.6 359.5,1358.8 364.7,1360.8 369.9,1362.3 375.0,1361.7 380.2,1361.0 385.4,1360.8 390.5,1360.8 395.7,1361.9 400.9,1364.6 406.0,1364.8 411.2,1361.3 416.4,1360.4 421.5,1362.9 426.7,1365.4 431.9,1366.9 437.0,1365.0 442.2,1358.6 447.4,1356.7 452.5,1362.7 457.7,1365.0 462.9,1361.7 468.0,1362.5 473.2,1362.9 478.4,1356.1 483.5,1352.3 488.7,1358.6 493.9,1365.0 499.0,1363.8 504.2,1363.3 509.4,1366.9 514.5,1368.5 519.7,1366.5 524.9,1361.9 530.0,1357.5 535.2,1356.7 540.4,1358.6 545.5,1361.3 550.7,1366.5 555.9,1367.5 561.0,1360.6 566.2,1356.7 571.4,1359.8 576.5,1363.3 581.7,1364.0 586.9,1361.3 592.0,1359.2 597.2,1359.2 602.4,1360.6 607.5,1362.5 612.7,1364.4 617.9,1365.8 623.0,1364.0 628.2,1360.8 633.4,1360.6 638.5,1360.4 643.7,1359.2 648.9,1360.2 654.0,1362.9 659.2,1364.0 664.4,1363.8 669.5,1363.3 674.7,1363.1 679.9,1362.7 685.0,1361.5 690.2,1360.0 695.4,1361.5 700.5,1366.5 705.7,1367.7 710.9,1365.0 716.0,1362.3 721.2,1362.5 726.4,1365.4 731.5,1365.8 736.7,1361.7 741.9,1356.7 747.0,1353.6 752.2,1350.4 757.4,1349.3 762.5,1354.0 767.7,1362.7 772.9,1366.9 778.0,1362.9 783.2,1355.0 788.4,1355.4 793.5,1364.0 798.7,1371.0 803.9,1370.8 809.0,1370.2 814.2,1368.5 819.4,1362.9 824.5,1355.6 829.7,1355.4 834.9,1360.6 840.1,1366.5 845.2,1371.0 850.4,1373.3 855.6,1370.6 860.7,1365.0 865.9,1357.7 871.1,1350.4 876.2,1347.9 881.4,1352.5 886.6,1361.3 891.7,1365.4 896.9,1361.3 902.1,1357.1 907.2,1358.8 912.4,1361.9 917.6,1362.7 922.7,1362.7 927.9,1363.3 933.1,1365.4 938.2,1368.5 943.4,1370.2 948.6,1366.5 953.7,1362.3 958.9,1360.6 964.1,1360.0 969.2,1360.2 974.4,1362.7 979.6,1365.0 984.7,1361.3 989.9,1354.6 995.1,1351.5 1000.2,1351.5 1005.4,1355.0 1010.6,1358.1 1015.7,1355.0 1020.9,1349.2 1026.1,1347.3 1031.2,1348.2 1036.4,1349.8 1041.6,1354.0 1046.7,1360.2 1051.9,1373.7 1057.1,1394.5 1062.2,1413.2 1067.4,1423.6 1072.6,1417.4 1077.7,1399.7 1082.9,1368.5 1088.1,1337.3 1093.2,1315.1 1098.4,1307.2 1103.6,1314.5 1108.7,1332.1 1113.9,1356.1 1119.1,1376.9 1124.2,1387.9 1129.4,1388.3 1134.6,1383.1 1139.7,1372.7 1144.9,1360.2 1150.1,1347.7 1155.2,1337.3 1160.4,1329.0 1165.6,1325.3 1170.7,1334.2 1175.9,1352.9 1181.1,1373.7 1186.2,1392.4 1191.4,1399.3 1196.6,1395.6 1201.7,1386.2 1206.9,1372.2 1212.1,1358.1 1217.2,1344.6 1222.4,1336.3 1227.6,1334.8 1232.7,1339.4 1237.9,1348.4 1243.1,1359.6 1248.2,1370.0 1253.4,1375.8 1258.6,1378.9 1263.7,1378.5 1268.9,1373.3 1274.1,1364.4 1279.2,1356.1 1284.4,1350.4 1289.6,1348.8 1294.7,1350.9 1299.9,1359.2 1305.1,1369.6 1310.2,1375.4 1315.4,1375.0 1320.6,1374.4 1325.7,1374.8 1330.9,1369.0 1336.1,1360.2 1341.2,1355.2 1346.4,1353.4 1351.6,1350.4 1356.7,1349.6 1361.9,1352.9 1367.1,1356.1 1372.2,1359.6 1377.4,1367.5 1382.6,1373.3 1387.7,1370.6 1392.9,1365.0 1398.1,1360.6 1403.2,1357.7 1408.4,1357.5 1413.6,1359.6 1418.7,1358.8 1423.9,1358.8 1429.1,1362.9 1434.2,1368.5 1439.4,1371.9 1444.6,1371.0 1449.7,1368.1 1454.9,1366.5 1460.1,1365.0 1465.2,1360.2 1470.4,1354.6 1475.6,1351.5 1480.7,1350.4 1485.9,1351.3 1491.1,1353.6 1496.2,1354.6 1501.4,1354.6 1506.6,1356.7 1511.7,1362.3 1516.9,1366.5 1522.1,1365.0 1527.2,1364.0 1532.4,1367.5 1537.6,1370.0 1542.7,1367.5 1547.9,1365.4 1553.1,1367.9 1558.2,1370.2 1563.4,1370.0 1568.6,1366.9 1573.7,1363.8 1578.9,1362.9 1584.1,1364.8 1589.2,1365.6 1594.4,1363.3 1599.6,1359.2 1604.7,1356.9 1609.9,1358.8 1615.1,1361.0 1620.2,1361.3 1625.4,1359.2 1630.6,1356.9 1635.7,1356.7 1640.9,1357.5 1646.1,1358.3 1651.2,1359.0 1656.4,1359.4 1661.6,1359.4 1666.7,1361.3 1671.9,1362.9 1677.1,1364.0 1682.2,1366.0 1687.4,1366.2 1692.6,1362.9 1697.7,1359.8 1702.9,1358.1 1708.1,1356.1 1713.2,1355.2 1718.4,1356.9 1723.6,1360.8 1728.7,1365.0 1733.9,1364.8 1739.1,1364.2 1744.2,1366.9 1749.4,1368.1 1754.6,1365.4 1759.7,1363.3 1764.9,1362.3 1770.1,1359.6 1775.2,1355.6 1780.4,1357.1 1785.6,1360.6 1790.7,1361.3 1795.9,1363.3 1801.1,1369.0 1806.2,1369.8 1811.4,1365.4 1816.6,1364.8 1821.7,1366.5 1826.9,1365.4 1832.1,1362.9 1837.2,1360.2 1842.4,1359.2 1847.6,1361.3 1852.7,1363.8 1857.9,1363.3 1863.1,1363.8 1868.2,1366.5 1873.4,1367.1 1878.6,1363.3 1883.7,1360.8 1888.9,1358.8 1894.1,1354.0 1899.2,1350.2 1904.4,1350.9 1909.6,1354.0 1914.7,1356.1 1919.9,1357.7 1925.1,1361.7 1930.2,1365.8 1935.4,1366.9 1940.6,1365.8 1945.7,1367.1 1950.9,1369.6 1956.1,1370.4 1961.2,1369.2 1966.4,1366.0 1971.6,1363.3 1976.7,1365.0 1981.9,1365.8 1987.1,1362.9 1992.2,1360.2 1997.4,1360.4 2002.6,1361.3 2007.7,1360.6 2012.9,1358.8 2018.1,1356.3 2023.2,1356.1 2028.4,1357.5 2033.6,1356.7 2038.7,1356.3 2043.9,1358.8 2049.1,1361.9 2054.2,1362.9 2059.4,1362.7 2064.6,1363.8 2069.7,1364.8 2074.9,1363.8 2080.1,1361.9 2085.2,1362.1 2090.4,1363.3 2095.6,1364.0 2100.7,1364.4 2105.9,1365.8 2111.1,1367.5 2112.6,1368.1"/>
<polyline class="ov" points="304.6,1474.7 306.5,1476.0 311.6,1477.4 316.8,1478.9 322.0,1473.7 327.1,1469.5 332.3,1475.8 337.5,1485.6 342.6,1487.6 347.8,1478.7 353.0,1468.3 358.1,1465.8 363.3,1468.3 368.5,1468.7 373.6,1470.2 378.8,1474.5 384.0,1473.3 389.1,1468.3 394.3,1470.2 399.5,1474.7 404.6,1473.5 409.8,1471.8 415.0,1477.7 420.1,1483.1 425.3,1478.5 430.5,1472.5 435.6,1475.4 440.8,1481.8 446.0,1481.8 451.1,1479.7 456.3,1479.9 461.5,1477.9 466.6,1473.1 471.8,1471.0 477.0,1468.7 482.1,1466.0 487.3,1468.9 492.5,1472.0 497.6,1465.8 502.8,1457.5 508.0,1458.5 513.1,1477.2 518.3,1485.6 523.5,1480.8 528.6,1476.8 533.8,1475.2 539.0,1471.4 544.1,1468.7 549.3,1471.8 554.5,1478.9 559.6,1482.4 564.8,1476.8 570.0,1471.6 575.1,1474.5 580.3,1476.6 585.5,1473.3 590.6,1473.1 595.8,1478.1 601.0,1483.9 606.1,1486.2 611.3,1482.4 616.5,1475.8 621.6,1468.9 626.8,1463.9 632.0,1464.3 637.1,1470.2 642.3,1477.7 647.5,1480.1 652.6,1475.2 657.8,1466.8 663.0,1462.5 668.1,1464.3 673.3,1475.6 678.5,1489.9 683.6,1491.6 688.8,1476.2 694.0,1462.3 699.1,1456.9 704.3,1457.9 709.5,1467.3 714.6,1479.9 719.8,1491.8 725.0,1496.6 730.1,1492.2 735.3,1478.3 740.5,1466.0 745.6,1465.8 750.8,1470.6 756.0,1469.3 761.1,1468.3 766.3,1471.4 771.5,1469.8 776.6,1464.3 781.8,1465.2 787.0,1469.5 792.1,1474.7 797.3,1481.0 802.5,1486.6 807.6,1488.7 812.8,1486.4 818.0,1482.0 823.1,1477.9 828.3,1474.5 833.5,1472.9 838.7,1473.3 843.8,1473.5 849.0,1474.3 854.2,1478.5 859.3,1478.3 864.5,1469.5 869.7,1461.2 874.8,1459.4 880.0,1460.8 885.2,1463.3 890.3,1466.0 895.5,1464.3 900.7,1457.1 905.8,1451.7 911.0,1454.4 916.2,1462.7 921.3,1470.0 926.5,1479.3 931.7,1488.7 936.8,1507.8 942.0,1530.7 947.2,1535.9 952.3,1519.9 957.5,1494.9 962.7,1470.0 967.8,1444.0 973.0,1421.7 978.2,1414.4 983.3,1425.3 988.5,1442.9 993.7,1465.8 998.8,1486.6 1004.0,1499.1 1009.2,1502.2 1014.3,1496.0 1019.5,1488.7 1024.7,1484.7 1029.8,1479.3 1035.0,1474.7 1040.2,1474.5 1045.3,1479.3 1050.5,1488.7 1055.7,1501.1 1060.8,1513.2 1066.0,1516.5 1071.2,1514.0 1076.3,1505.7 1081.5,1484.5 1086.7,1456.4 1091.8,1437.3 1097.0,1426.3 1102.2,1419.0 1107.3,1416.9 1112.5,1423.2 1117.7,1432.1 1122.8,1437.7 1128.0,1442.9 1133.2,1448.1 1138.3,1453.9 1143.5,1464.8 1148.7,1481.4 1153.8,1497.6 1159.0,1503.4 1164.2,1505.9 1169.3,1515.7 1174.5,1524.4 1179.7,1519.2 1184.8,1508.4 1190.0,1503.2 1195.2,1496.0 1200.3,1484.5 1205.5,1475.4 1210.7,1471.0 1215.8,1465.8 1221.0,1462.7 1226.2,1461.2 1231.3,1455.4 1236.5,1451.9 1241.7,1457.1 1246.8,1459.6 1252.0,1452.3 1257.2,1448.7 1262.3,1451.7 1267.5,1458.9 1272.7,1470.6 1277.8,1481.4 1283.0,1487.6 1288.2,1491.8 1293.3,1497.0 1298.5,1498.7 1303.7,1492.8 1308.8,1488.0 1314.0,1486.0 1319.2,1480.8 1324.3,1470.0 1329.5,1458.5 1334.7,1453.5 1339.8,1456.9 1345.0,1462.1 1350.2,1464.3 1355.3,1463.1 1360.5,1460.8 1365.7,1464.3 1370.8,1474.7 1376.0,1480.8 1381.2,1480.1 1386.3,1479.5 1391.5,1479.7 1396.7,1477.9 1401.8,1475.4 1407.0,1477.2 1412.2,1481.4 1417.3,1480.8 1422.5,1479.7 1427.7,1482.4 1432.8,1484.1 1438.0,1483.5 1443.2,1482.0 1448.3,1478.3 1453.5,1472.7 1458.7,1470.4 1463.8,1472.7 1469.0,1472.5 1474.2,1469.5 1479.3,1469.3 1484.5,1473.1 1489.7,1477.7 1494.8,1479.7 1500.0,1474.1 1505.2,1464.1 1510.3,1461.0 1515.5,1464.8 1520.7,1463.9 1525.8,1460.8 1531.0,1462.1 1536.2,1466.8 1541.3,1475.2 1546.5,1486.0 1551.7,1494.5 1556.8,1497.0 1562.0,1495.5 1567.2,1486.6 1572.3,1474.5 1577.5,1468.5 1582.7,1471.0 1587.8,1472.5 1593.0,1464.8 1598.2,1456.6 1603.3,1459.1 1608.5,1469.3 1613.7,1471.8 1618.8,1462.3 1624.0,1457.5 1629.2,1465.8 1634.3,1474.5 1639.5,1475.2 1644.7,1476.4 1649.8,1480.4 1655.0,1483.1 1660.2,1483.9 1665.3,1482.6 1670.5,1482.0 1675.7,1482.0 1680.8,1480.4 1686.0,1477.9 1691.2,1475.8 1696.3,1475.4 1701.5,1477.4 1706.7,1479.1 1711.8,1479.7 1717.0,1480.6 1722.2,1479.7 1727.3,1475.8 1732.5,1472.7 1737.7,1473.9 1742.8,1474.5 1748.0,1471.2 1753.2,1470.2 1758.3,1472.0 1763.5,1472.2 1768.7,1467.5 1773.8,1460.4 1779.0,1458.5 1784.2,1464.3 1789.3,1468.5 1794.5,1468.5 1799.7,1470.2 1804.8,1473.3 1810.0,1474.1 1815.2,1476.8 1820.3,1484.5 1825.5,1491.6 1830.7,1491.6 1835.8,1486.0 1841.0,1477.9 1846.2,1472.2 1851.3,1471.0 1856.5,1474.1 1861.7,1476.4 1866.8,1471.0 1872.0,1465.4 1877.2,1468.5 1882.3,1471.6 1887.5,1470.6 1892.7,1470.4 1897.8,1471.8 1903.0,1472.0 1908.2,1467.3 1913.3,1462.1 1918.5,1463.5 1923.7,1468.5 1928.8,1470.2 1934.0,1470.8 1939.2,1473.1 1944.3,1477.7 1949.5,1485.6 1954.7,1493.5 1959.8,1494.9 1965.0,1491.8 1970.2,1486.2 1975.3,1481.0 1980.5,1478.9 1985.7,1475.8 1990.8,1468.3 1996.0,1463.7 2001.2,1463.9 2006.3,1463.5 2011.5,1460.4 2016.7,1458.7 2021.8,1461.2 2027.0,1462.7 2032.2,1463.1 2037.3,1467.3 2042.5,1476.8 2047.7,1482.6 2052.8,1479.7 2058.0,1478.1 2063.2,1482.6 2068.3,1487.0 2073.5,1485.8 2078.7,1479.9 2083.8,1476.6 2089.0,1478.1 2094.2,1477.9 2099.3,1473.5 2104.5,1470.2 2109.7,1472.7 2112.6,1474.5"/>
<polyline class="ov" points="304.6,1470.5 306.7,1471.7 311.8,1475.5 317.0,1475.3 322.2,1475.5 327.3,1479.2 332.5,1480.1 337.7,1472.4 342.8,1464.3 348.0,1467.4 353.2,1478.6 358.3,1481.1 363.5,1473.6 368.7,1469.2 373.8,1471.7 379.0,1476.3 384.2,1476.7 389.3,1472.4 394.5,1469.5 399.7,1473.0 404.8,1476.5 410.0,1474.0 415.2,1467.2 420.3,1466.7 425.5,1475.1 430.7,1478.8 435.8,1473.0 441.0,1470.9 446.2,1472.4 451.3,1474.7 456.5,1479.6 461.7,1477.8 466.8,1468.6 472.0,1466.5 477.2,1470.9 482.3,1475.5 487.5,1478.0 492.7,1476.1 497.8,1473.4 503.0,1471.9 508.2,1469.9 513.3,1472.6 518.5,1479.6 523.7,1478.2 528.8,1470.5 534.0,1472.2 539.2,1476.5 544.3,1474.7 549.5,1472.8 554.7,1476.5 559.8,1478.6 565.0,1473.0 570.2,1468.6 575.3,1471.9 580.5,1477.6 585.7,1477.6 590.8,1471.9 596.0,1470.3 601.2,1479.2 606.3,1484.6 611.5,1478.2 616.7,1467.4 621.8,1465.1 627.0,1473.0 632.2,1480.7 637.3,1482.8 642.5,1481.9 647.7,1479.8 652.8,1471.9 658.0,1466.3 663.2,1471.9 668.3,1477.8 673.5,1477.6 678.7,1476.3 683.8,1475.7 689.0,1469.9 694.2,1464.7 699.3,1471.5 704.5,1482.6 709.7,1481.9 714.8,1473.6 720.0,1470.5 725.2,1473.0 730.3,1478.8 735.5,1480.7 740.7,1474.4 745.8,1470.3 751.0,1470.3 756.2,1470.6 761.3,1472.2 766.5,1475.5 771.7,1478.6 776.8,1477.8 782.0,1473.6 787.2,1472.6 792.3,1472.4 797.5,1468.8 802.7,1467.8 807.8,1471.9 813.0,1472.8 818.2,1469.5 823.3,1471.3 828.5,1473.6 833.7,1470.3 838.9,1472.6 844.0,1479.6 849.2,1479.6 854.4,1474.4 859.5,1473.8 864.7,1476.1 869.9,1477.8 875.0,1475.3 880.2,1471.9 885.4,1474.4 890.5,1475.9 895.7,1472.2 900.9,1471.3 906.0,1472.6 911.2,1471.9 916.4,1474.4 921.5,1478.0 926.7,1476.3 931.9,1472.4 937.0,1471.1 942.2,1474.4 947.4,1477.4 952.5,1474.9 957.7,1471.5 962.9,1470.3 968.0,1469.2 973.2,1470.7 978.4,1473.4 983.5,1473.6 988.7,1471.5 993.9,1469.9 999.0,1476.7 1004.2,1487.3 1009.4,1486.7 1014.5,1474.0 1019.7,1466.5 1024.9,1469.9 1030.0,1476.7 1035.2,1480.1 1040.4,1479.6 1045.5,1479.0 1050.7,1477.8 1055.9,1474.0 1061.0,1470.5 1066.2,1468.8 1071.4,1470.5 1076.5,1473.0 1081.7,1472.6 1086.9,1470.5 1092.0,1471.1 1097.2,1471.5 1102.4,1468.6 1107.5,1470.7 1112.7,1478.8 1117.9,1481.9 1123.0,1479.4 1128.2,1480.9 1133.4,1483.4 1138.5,1478.2 1143.7,1473.2 1148.9,1472.6 1154.0,1472.8 1159.2,1469.9 1164.4,1467.0 1169.5,1468.8 1174.7,1475.7 1179.9,1480.1 1185.0,1474.4 1190.2,1469.9 1195.4,1474.0 1200.5,1477.3 1205.7,1474.3 1210.9,1473.6 1216.0,1477.6 1221.2,1480.7 1226.4,1476.5 1231.5,1465.1 1236.7,1457.8 1241.9,1460.9 1247.0,1460.5 1252.2,1450.5 1257.4,1444.5 1262.5,1446.0 1267.7,1452.2 1272.9,1465.7 1278.0,1483.4 1283.2,1501.1 1288.4,1517.7 1293.5,1530.8 1298.7,1536.0 1303.9,1523.9 1309.0,1503.1 1314.2,1478.2 1319.4,1455.3 1324.5,1436.6 1329.7,1426.8 1334.9,1436.6 1340.0,1456.8 1345.2,1474.0 1350.4,1487.1 1355.5,1498.6 1360.7,1502.5 1365.9,1495.4 1371.0,1481.3 1376.2,1467.2 1381.4,1460.1 1386.5,1455.3 1391.7,1449.7 1396.9,1447.0 1402.0,1455.9 1407.2,1471.5 1412.4,1480.7 1417.5,1488.6 1422.7,1503.1 1427.9,1513.1 1433.0,1500.0 1438.2,1477.6 1443.4,1469.2 1448.5,1472.6 1453.7,1473.0 1458.9,1468.2 1464.0,1457.0 1469.2,1449.7 1474.4,1450.7 1479.5,1449.5 1484.7,1443.9 1489.9,1441.0 1495.0,1442.6 1500.2,1448.0 1505.4,1457.4 1510.5,1471.9 1515.7,1487.1 1520.9,1497.9 1526.0,1509.0 1531.2,1518.7 1536.4,1520.8 1541.5,1517.5 1546.7,1518.7 1551.9,1512.9 1557.0,1484.4 1562.2,1455.7 1567.4,1450.3 1572.5,1452.2 1577.7,1449.5 1582.9,1454.3 1588.0,1467.8 1593.2,1476.3 1598.4,1479.2 1603.5,1483.0 1608.7,1482.8 1613.9,1468.8 1619.0,1455.7 1624.2,1454.3 1629.4,1455.9 1634.5,1457.0 1639.7,1460.1 1644.9,1465.1 1650.0,1472.6 1655.2,1483.4 1660.4,1492.7 1665.5,1493.8 1670.7,1493.2 1675.9,1491.7 1681.0,1487.5 1686.2,1482.8 1691.4,1476.1 1696.5,1467.4 1701.7,1460.9 1706.9,1456.4 1712.0,1453.4 1717.2,1453.6 1722.4,1455.1 1727.5,1456.4 1732.7,1463.0 1737.9,1472.6 1743.0,1475.9 1748.2,1476.3 1753.4,1479.2 1758.5,1485.0 1763.7,1490.7 1768.9,1491.1 1774.0,1490.0 1779.2,1490.9 1784.4,1491.3 1789.5,1490.5 1794.7,1491.1 1799.9,1491.9 1805.0,1484.4 1810.2,1471.7 1815.4,1471.9 1820.5,1478.4 1825.7,1467.8 1830.9,1451.4 1836.0,1452.2 1841.2,1463.6 1846.4,1461.8 1851.5,1450.5 1856.7,1451.2 1861.9,1463.2 1867.0,1468.6 1872.2,1465.1 1877.4,1467.8 1882.5,1477.1 1887.7,1480.7 1892.9,1477.1 1898.0,1480.3 1903.2,1487.5 1908.4,1489.6 1913.5,1488.8 1918.7,1486.9 1923.9,1482.8 1929.0,1478.6 1934.2,1475.1 1939.4,1470.3 1944.5,1469.9 1949.7,1470.9 1954.9,1461.1 1960.0,1452.2 1965.2,1461.1 1970.4,1473.6 1975.5,1474.7 1980.7,1468.6 1985.9,1468.4 1991.0,1474.7 1996.2,1478.8 2001.4,1479.2 2006.5,1480.3 2011.7,1482.3 2016.9,1482.1 2022.0,1481.7 2027.2,1483.4 2032.4,1482.6 2037.5,1479.0 2042.7,1478.8 2047.9,1485.5 2053.0,1491.7 2058.2,1483.8 2063.4,1470.9 2068.5,1468.6 2073.7,1475.1 2078.9,1479.8 2084.0,1474.0 2089.2,1461.6 2094.4,1459.7 2099.5,1466.1 2104.7,1466.7 2109.9,1466.1 2112.6,1467.8"/>
<polyline class="ov" points="304.6,1472.9 306.1,1472.1 311.2,1470.8 316.4,1473.3 321.6,1473.5 326.7,1470.4 331.9,1472.1 337.1,1477.7 342.2,1478.5 347.4,1475.0 352.6,1476.2 357.7,1477.1 362.9,1472.5 368.1,1470.2 373.2,1474.4 378.4,1477.9 383.6,1477.3 388.7,1476.6 393.9,1475.8 399.1,1472.5 404.2,1468.7 409.4,1468.5 414.6,1471.4 419.7,1474.4 424.9,1477.7 430.1,1479.1 435.2,1472.9 440.4,1466.7 445.6,1469.8 450.7,1475.4 455.9,1473.3 461.1,1472.1 466.2,1475.6 471.4,1477.3 476.6,1474.4 481.7,1470.4 486.9,1470.4 492.1,1475.6 497.2,1478.7 502.4,1477.7 507.6,1479.1 512.7,1480.4 517.9,1476.2 523.1,1471.9 528.2,1470.8 533.4,1471.2 538.6,1472.3 543.7,1471.9 548.9,1469.8 554.1,1472.5 559.2,1478.7 564.4,1479.6 569.6,1475.0 574.7,1470.8 579.9,1471.4 585.1,1478.7 590.2,1481.2 595.4,1473.3 600.6,1467.1 605.7,1470.4 610.9,1476.6 616.1,1477.9 621.2,1475.0 626.4,1475.6 631.6,1477.1 636.7,1472.9 641.9,1470.6 647.1,1471.9 652.2,1470.4 657.4,1467.9 662.6,1468.9 667.7,1471.4 672.9,1475.4 678.1,1481.2 683.2,1481.8 688.4,1474.6 693.6,1471.4 698.7,1473.3 703.9,1473.9 709.1,1474.6 714.2,1479.1 719.4,1484.8 724.6,1486.0 729.7,1479.1 734.9,1471.4 740.1,1467.1 745.2,1466.5 750.4,1468.7 755.6,1472.1 760.7,1475.4 765.9,1478.1 771.1,1473.5 776.2,1466.7 781.4,1467.9 786.6,1470.8 791.7,1468.1 796.9,1470.4 802.1,1482.7 807.2,1486.6 812.4,1473.9 817.6,1461.5 822.8,1459.4 827.9,1467.7 833.1,1475.6 838.3,1479.1 843.4,1481.2 848.6,1487.5 853.8,1490.2 858.9,1477.1 864.1,1465.0 869.3,1464.0 874.4,1469.8 879.6,1470.8 884.8,1470.4 889.9,1473.3 895.1,1474.6 900.3,1471.6 905.4,1468.7 910.6,1469.4 915.8,1474.6 920.9,1477.3 926.1,1473.3 931.3,1471.0 936.4,1470.8 941.6,1467.7 946.8,1464.4 951.9,1466.2 957.1,1468.5 962.3,1468.7 967.4,1472.9 972.6,1480.6 977.8,1489.9 982.9,1497.2 988.1,1499.5 993.3,1497.2 998.4,1493.3 1003.6,1486.0 1008.8,1478.5 1013.9,1475.4 1019.1,1475.2 1024.3,1475.0 1029.4,1479.1 1034.6,1486.4 1039.8,1492.2 1044.9,1496.2 1050.1,1492.7 1055.3,1471.9 1060.4,1450.0 1065.6,1436.5 1070.8,1425.5 1075.9,1415.9 1081.1,1412.2 1086.3,1426.7 1091.4,1445.4 1096.6,1462.5 1101.8,1475.0 1106.9,1483.3 1112.1,1489.5 1117.3,1496.2 1122.4,1499.9 1127.6,1498.3 1132.8,1493.7 1137.9,1491.2 1143.1,1490.4 1148.3,1489.9 1153.4,1489.5 1158.6,1488.9 1163.8,1487.5 1168.9,1483.3 1174.1,1478.1 1179.3,1476.6 1184.4,1476.0 1189.6,1469.8 1194.8,1461.0 1199.9,1459.5 1205.1,1462.5 1210.3,1463.1 1215.4,1461.7 1220.6,1462.5 1225.8,1464.2 1230.9,1464.6 1236.1,1466.2 1241.3,1473.9 1246.4,1481.2 1251.6,1487.5 1256.8,1492.7 1261.9,1495.4 1267.1,1490.6 1272.3,1483.3 1277.4,1479.1 1282.6,1471.4 1287.8,1459.8 1292.9,1453.1 1298.1,1453.6 1303.3,1459.4 1308.4,1467.7 1313.6,1473.5 1318.8,1479.6 1323.9,1485.4 1329.1,1487.0 1334.3,1487.0 1339.4,1488.3 1344.6,1487.0 1349.8,1480.2 1354.9,1470.2 1360.1,1463.5 1365.3,1465.0 1370.4,1472.5 1375.6,1476.0 1380.8,1474.6 1385.9,1476.6 1391.1,1479.1 1396.3,1474.4 1401.4,1465.6 1406.6,1462.5 1411.8,1465.4 1416.9,1467.7 1422.1,1465.6 1427.3,1462.1 1432.4,1462.5 1437.6,1464.6 1442.8,1465.2 1447.9,1465.6 1453.1,1473.3 1458.3,1484.8 1463.4,1486.4 1468.6,1479.6 1473.8,1477.1 1478.9,1482.3 1484.1,1485.0 1489.3,1483.3 1494.4,1480.8 1499.6,1479.6 1504.8,1479.1 1509.9,1479.1 1515.1,1476.4 1520.3,1473.3 1525.4,1474.6 1530.6,1477.5 1535.8,1477.1 1540.9,1477.7 1546.1,1480.4 1551.3,1477.5 1556.4,1470.8 1561.6,1468.7 1566.8,1471.4 1571.9,1473.9 1577.1,1473.3 1582.3,1471.2 1587.4,1471.4 1592.6,1471.2 1597.8,1467.9 1602.9,1467.1 1608.1,1468.7 1613.3,1466.7 1618.4,1466.7 1623.6,1472.3 1628.8,1476.4 1633.9,1476.2 1639.1,1477.5 1644.3,1478.5 1649.4,1475.0 1654.6,1469.8 1659.8,1469.8 1664.9,1472.1 1670.1,1469.8 1675.3,1465.8 1680.4,1469.8 1685.6,1481.2 1690.8,1488.9 1695.9,1486.0 1701.1,1482.0 1706.3,1480.2 1711.4,1478.3 1716.6,1478.7 1721.8,1483.9 1726.9,1483.5 1732.1,1476.0 1737.3,1472.3 1742.4,1471.6 1747.6,1470.4 1752.8,1469.6 1757.9,1469.8 1763.1,1470.6 1768.3,1470.8 1773.4,1471.2 1778.6,1473.1 1783.8,1473.9 1788.9,1473.5 1794.1,1475.2 1799.3,1477.1 1804.4,1472.5 1809.6,1464.0 1814.8,1460.4 1819.9,1464.6 1825.1,1468.7 1830.3,1467.1 1835.4,1464.2 1840.6,1465.6 1845.8,1471.2 1850.9,1476.4 1856.1,1474.6 1861.3,1471.2 1866.4,1473.5 1871.6,1475.6 1876.8,1474.4 1881.9,1474.6 1887.1,1479.1 1892.3,1483.3 1897.4,1481.8 1902.6,1477.7 1907.8,1477.1 1912.9,1482.9 1918.1,1490.6 1923.3,1490.4 1928.4,1484.8 1933.6,1482.7 1938.8,1479.8 1943.9,1473.3 1949.1,1471.4 1954.3,1476.2 1959.4,1476.6 1964.6,1469.4 1969.8,1462.7 1974.9,1465.2 1980.1,1472.5 1985.3,1472.9 1990.4,1468.1 1995.6,1467.7 2000.8,1470.4 2005.9,1471.6 2011.1,1471.6 2016.3,1470.4 2021.4,1469.4 2026.6,1472.5 2031.8,1478.3 2036.9,1480.6 2042.1,1479.6 2047.3,1478.7 2052.4,1476.6 2057.6,1472.9 2062.8,1469.4 2067.9,1470.0 2073.1,1471.6 2078.3,1468.7 2083.4,1465.6 2088.6,1466.9 2093.8,1470.2 2098.9,1471.4 2104.1,1469.8 2109.3,1471.2 2112.6,1473.9"/>
<polyline class="ov" points="304.6,1468.7 306.9,1469.3 312.1,1476.4 317.3,1483.2 322.4,1479.1 327.6,1470.1 332.8,1467.4 337.9,1470.1 343.1,1473.1 348.3,1476.0 353.4,1477.6 358.6,1476.0 363.8,1473.9 368.9,1471.4 374.1,1469.1 379.3,1473.9 384.4,1478.7 389.6,1474.9 394.8,1471.0 399.9,1476.0 405.1,1482.6 410.3,1481.6 415.4,1472.8 420.6,1466.4 425.8,1471.2 430.9,1480.3 436.1,1479.5 441.3,1469.7 446.4,1466.4 451.6,1473.5 456.8,1480.3 461.9,1478.7 467.1,1469.7 472.3,1465.2 477.4,1466.2 482.6,1468.3 487.8,1473.3 492.9,1479.3 498.1,1479.9 503.3,1477.4 508.4,1475.1 513.6,1473.7 518.8,1473.5 523.9,1474.3 529.1,1472.8 534.3,1471.8 539.4,1473.5 544.6,1474.5 549.8,1472.2 554.9,1470.8 560.1,1474.3 565.3,1478.0 570.4,1474.5 575.6,1469.1 580.8,1471.2 585.9,1478.0 591.1,1480.5 596.3,1476.8 601.4,1472.6 606.6,1471.8 611.8,1474.3 616.9,1475.1 622.1,1470.8 627.3,1469.5 632.4,1473.9 637.6,1475.8 642.8,1473.3 647.9,1471.2 653.1,1471.4 658.3,1474.5 663.4,1478.0 668.6,1478.7 673.8,1476.0 678.9,1473.3 684.1,1472.2 689.3,1474.3 694.4,1477.0 699.6,1476.4 704.8,1472.0 709.9,1471.2 715.1,1477.4 720.3,1481.8 725.4,1476.0 730.6,1469.9 735.8,1469.3 740.9,1470.1 746.1,1472.2 751.3,1473.3 756.4,1469.4 761.6,1467.4 766.8,1474.5 771.9,1484.3 777.1,1485.9 782.3,1479.3 787.4,1474.7 792.6,1475.1 797.8,1475.3 802.9,1476.2 808.1,1479.7 813.3,1479.3 818.4,1470.8 823.6,1465.6 828.8,1469.7 833.9,1473.3 839.1,1471.8 844.3,1471.4 849.4,1476.0 854.6,1479.7 859.8,1479.5 864.9,1474.3 870.1,1469.1 875.3,1470.6 880.4,1477.6 885.6,1481.0 890.8,1478.5 895.9,1473.1 901.1,1468.3 906.3,1468.3 911.4,1469.7 916.6,1471.8 921.8,1475.3 926.9,1477.4 932.1,1480.1 937.3,1482.6 942.4,1478.0 947.6,1469.1 952.8,1469.5 957.9,1473.5 963.1,1471.8 968.3,1469.7 973.4,1472.8 978.6,1474.1 983.8,1471.8 988.9,1467.9 994.1,1465.6 999.3,1468.1 1004.4,1473.7 1009.6,1472.4 1014.8,1464.1 1019.9,1461.6 1025.1,1464.5 1030.3,1464.7 1035.4,1464.7 1040.6,1470.8 1045.8,1480.1 1050.9,1498.8 1056.1,1513.4 1061.3,1527.3 1066.4,1531.1 1071.6,1520.1 1076.8,1498.8 1081.9,1476.0 1087.1,1454.1 1092.3,1436.5 1097.4,1421.3 1102.6,1412.5 1107.8,1421.9 1112.9,1442.1 1118.1,1462.0 1123.3,1477.6 1128.4,1490.1 1133.6,1493.6 1138.8,1490.9 1143.9,1488.4 1149.1,1483.2 1154.3,1472.8 1159.4,1468.7 1164.6,1471.4 1169.8,1469.1 1174.9,1468.3 1180.1,1481.2 1185.3,1498.8 1190.4,1507.2 1195.6,1500.9 1200.8,1485.8 1205.9,1474.7 1211.1,1467.6 1216.3,1460.0 1221.4,1452.7 1226.6,1450.2 1231.8,1452.1 1236.9,1454.1 1242.1,1456.0 1247.3,1459.7 1252.4,1464.5 1257.6,1468.7 1262.8,1475.3 1267.9,1484.3 1273.1,1488.4 1278.3,1489.1 1283.4,1490.3 1288.6,1490.9 1293.8,1489.5 1298.9,1484.7 1304.1,1480.5 1309.3,1481.4 1314.4,1480.1 1319.6,1471.8 1324.8,1464.9 1329.9,1467.6 1335.1,1474.1 1340.3,1474.7 1345.4,1469.7 1350.6,1467.6 1355.8,1472.4 1360.9,1476.4 1366.1,1473.9 1371.3,1472.8 1376.4,1476.0 1381.6,1476.0 1386.8,1471.4 1391.9,1468.9 1397.1,1466.6 1402.3,1462.4 1407.4,1463.9 1412.6,1469.3 1417.8,1471.2 1422.9,1472.6 1428.1,1474.7 1433.3,1475.3 1438.4,1475.1 1443.6,1477.6 1448.8,1481.0 1453.9,1479.3 1459.1,1473.9 1464.3,1472.2 1469.4,1472.8 1474.6,1473.3 1479.8,1474.3 1484.9,1476.8 1490.1,1478.0 1495.3,1474.3 1500.4,1467.6 1505.6,1470.1 1510.8,1476.4 1515.9,1472.6 1521.1,1466.6 1526.3,1472.2 1531.4,1479.1 1536.6,1474.9 1541.8,1470.8 1546.9,1478.0 1552.1,1484.5 1557.3,1482.2 1562.4,1477.0 1567.6,1475.8 1572.8,1476.6 1577.9,1477.4 1583.1,1476.0 1588.3,1473.9 1593.4,1476.6 1598.6,1479.7 1603.8,1476.6 1608.9,1470.8 1614.1,1467.2 1619.3,1466.8 1624.4,1470.8 1629.6,1477.0 1634.8,1477.4 1639.9,1471.2 1645.1,1466.8 1650.3,1468.3 1655.4,1473.5 1660.6,1479.5 1665.8,1481.4 1670.9,1476.0 1676.1,1472.4 1681.3,1476.0 1686.4,1477.6 1691.6,1473.5 1696.8,1472.2 1701.9,1474.5 1707.1,1472.6 1712.3,1470.6 1717.4,1475.6 1722.6,1478.5 1727.8,1475.6 1732.9,1472.4 1738.1,1469.7 1743.3,1470.4 1748.4,1478.7 1753.6,1484.3 1758.8,1476.0 1763.9,1466.4 1769.1,1466.6 1774.3,1472.2 1779.4,1473.5 1784.6,1473.3 1789.8,1474.3 1794.9,1475.3 1800.1,1477.4 1805.3,1478.0 1810.4,1472.6 1815.6,1471.4 1820.8,1477.2 1825.9,1477.0 1831.1,1471.6 1836.3,1472.2 1841.4,1474.5 1846.6,1473.5 1851.8,1472.2 1856.9,1471.6 1862.1,1470.6 1867.3,1472.4 1872.4,1476.2 1877.6,1472.4 1882.8,1467.2 1887.9,1469.3 1893.1,1474.1 1898.3,1475.6 1903.4,1473.9 1908.6,1472.2 1913.8,1472.8 1918.9,1473.3 1924.1,1473.9 1929.3,1475.6 1934.4,1473.9 1939.6,1472.8 1944.8,1478.0 1949.9,1483.2 1955.1,1480.1 1960.3,1476.0 1965.4,1478.0 1970.6,1479.7 1975.8,1472.2 1980.9,1466.0 1986.1,1470.8 1991.3,1476.8 1996.4,1474.9 2001.6,1469.3 2006.8,1467.6 2011.9,1471.2 2017.1,1473.5 2022.3,1473.3 2027.4,1473.3 2032.6,1473.7 2037.8,1476.0 2042.9,1479.3 2048.1,1476.0 2053.3,1468.1 2058.4,1469.3 2063.6,1478.0 2068.8,1479.7 2073.9,1474.3 2079.1,1475.3 2084.3,1480.7 2089.4,1477.0 2094.6,1472.2 2099.8,1476.4 2104.9,1478.7 2110.1,1473.9 2112.6,1472.8"/>
<polyline class="ov" points="304.6,1472.8 307.5,1465.9 312.6,1457.2 317.8,1466.5 323.0,1484.2 328.1,1488.8 333.3,1478.0 338.5,1465.1 343.6,1464.4 348.8,1478.4 354.0,1492.5 359.1,1489.4 364.3,1469.6 369.5,1456.7 374.6,1467.6 379.8,1486.7 385.0,1489.8 390.1,1474.2 395.3,1465.5 400.5,1466.9 405.6,1467.1 410.8,1466.7 416.0,1471.7 421.1,1476.5 426.3,1472.1 431.5,1467.4 436.6,1474.2 441.8,1485.9 447.0,1489.4 452.1,1487.5 457.3,1488.8 462.5,1483.6 467.6,1468.6 472.8,1459.2 478.0,1466.5 483.1,1466.9 488.3,1459.9 493.5,1469.6 498.6,1487.5 503.8,1486.9 509.0,1471.7 514.1,1460.5 519.3,1466.5 524.5,1488.4 529.6,1506.4 534.8,1495.6 540.0,1462.4 545.1,1442.2 550.3,1450.9 555.5,1473.8 560.6,1485.2 565.8,1478.4 571.0,1464.6 576.1,1465.1 581.3,1477.3 586.5,1476.3 591.6,1469.0 596.8,1473.8 602.0,1477.3 607.1,1472.5 612.3,1471.7 617.5,1472.3 622.6,1467.8 627.8,1472.8 633.0,1483.2 638.1,1478.0 643.3,1467.8 648.5,1474.4 653.6,1489.2 658.8,1492.5 664.0,1485.2 669.1,1481.1 674.3,1484.6 679.5,1487.9 684.6,1478.4 689.8,1465.1 695.0,1466.3 700.1,1464.6 705.3,1452.2 710.5,1454.0 715.6,1470.1 720.8,1478.8 726.0,1478.0 731.1,1475.3 736.3,1474.0 741.5,1476.5 746.6,1478.6 751.8,1478.0 757.0,1477.6 762.1,1476.9 767.3,1466.1 772.5,1458.2 777.6,1464.4 782.8,1472.1 788.0,1482.7 793.1,1495.6 798.3,1488.8 803.5,1478.2 808.6,1485.9 813.8,1489.8 819.0,1467.6 824.1,1452.2 829.3,1460.9 834.5,1470.7 839.7,1465.5 844.8,1456.7 850.0,1449.9 855.2,1457.2 860.3,1480.7 865.5,1492.5 870.7,1483.2 875.8,1479.0 881.0,1488.4 886.2,1486.9 891.3,1470.1 896.5,1459.2 901.7,1462.4 906.8,1470.7 912.0,1479.4 917.2,1479.4 922.3,1471.3 927.5,1470.3 932.7,1477.5 937.8,1478.4 943.0,1471.3 948.2,1464.4 953.3,1458.4 958.5,1462.8 963.7,1472.1 968.8,1468.6 974.0,1463.8 979.2,1471.7 984.3,1479.4 989.5,1478.4 994.7,1484.8 999.8,1500.8 1005.0,1509.6 1010.2,1503.9 1015.3,1488.4 1020.5,1477.3 1025.7,1472.5 1030.8,1473.2 1036.0,1471.3 1041.2,1468.0 1046.3,1459.9 1051.5,1445.7 1056.7,1432.2 1061.8,1431.2 1067.0,1439.5 1072.2,1448.8 1077.3,1455.1 1082.5,1466.1 1087.7,1490.4 1092.8,1516.8 1098.0,1530.8 1103.2,1533.7 1108.3,1535.8 1113.5,1531.0 1118.7,1513.3 1123.8,1499.8 1129.0,1487.7 1134.2,1464.4 1139.3,1440.5 1144.5,1439.1 1149.7,1453.6 1154.8,1450.3 1160.0,1434.7 1165.2,1432.4 1170.3,1440.5 1175.5,1447.4 1180.7,1450.3 1185.8,1449.3 1191.0,1448.4 1196.2,1450.9 1201.3,1456.1 1206.5,1465.3 1211.7,1480.0 1216.8,1497.7 1222.0,1512.9 1227.2,1521.0 1232.3,1518.3 1237.5,1507.5 1242.7,1505.0 1247.8,1511.2 1253.0,1506.7 1258.2,1483.2 1263.3,1460.9 1268.5,1457.2 1273.7,1465.1 1278.8,1469.6 1284.0,1465.5 1289.2,1459.7 1294.3,1458.8 1299.5,1465.5 1304.7,1468.6 1309.8,1464.4 1315.0,1463.4 1320.2,1461.3 1325.3,1450.9 1330.5,1457.8 1335.7,1488.4 1340.8,1510.6 1346.0,1496.7 1351.2,1472.8 1356.3,1464.4 1361.5,1472.8 1366.7,1483.2 1371.8,1483.6 1377.0,1474.8 1382.2,1463.4 1387.3,1456.1 1392.5,1464.4 1397.7,1480.0 1402.8,1483.2 1408.0,1467.6 1413.2,1458.2 1418.3,1467.1 1423.5,1475.9 1428.7,1474.4 1433.8,1476.5 1439.0,1477.5 1444.2,1472.3 1449.3,1472.1 1454.5,1478.0 1459.7,1479.4 1464.8,1470.3 1470.0,1462.8 1475.2,1471.1 1480.3,1477.5 1485.5,1469.6 1490.7,1474.4 1495.8,1491.5 1501.0,1489.4 1506.2,1474.4 1511.3,1479.4 1516.5,1494.8 1521.7,1493.1 1526.8,1484.2 1532.0,1482.1 1537.2,1479.0 1542.3,1473.8 1547.5,1473.4 1552.7,1475.9 1557.8,1470.3 1563.0,1458.2 1568.2,1451.3 1573.3,1459.9 1578.5,1469.0 1583.7,1460.3 1588.8,1449.1 1594.0,1451.5 1599.2,1459.2 1604.3,1465.5 1609.5,1474.4 1614.7,1485.6 1619.8,1491.5 1625.0,1486.9 1630.2,1479.4 1635.3,1483.6 1640.5,1491.7 1645.7,1485.6 1650.8,1475.3 1656.0,1481.1 1661.2,1489.8 1666.3,1473.8 1671.5,1450.9 1676.7,1449.7 1681.8,1465.5 1687.0,1473.2 1692.2,1465.9 1697.3,1461.9 1702.5,1469.2 1707.7,1473.2 1712.8,1467.1 1718.0,1461.7 1723.2,1464.2 1728.3,1474.8 1733.5,1486.3 1738.7,1487.7 1743.8,1487.5 1749.0,1492.5 1754.2,1490.6 1759.3,1480.7 1764.5,1480.2 1769.7,1489.0 1774.8,1490.4 1780.0,1479.0 1785.2,1469.6 1790.3,1470.5 1795.5,1470.1 1800.7,1461.9 1805.8,1457.6 1811.0,1455.1 1816.2,1450.9 1821.3,1454.0 1826.5,1462.8 1831.7,1472.3 1836.8,1483.2 1842.0,1484.6 1847.2,1477.5 1852.3,1481.1 1857.5,1490.0 1862.7,1493.6 1867.8,1488.4 1873.0,1473.8 1878.2,1465.5 1883.3,1472.1 1888.5,1481.5 1893.7,1485.2 1898.8,1481.5 1904.0,1473.2 1909.2,1472.8 1914.3,1482.5 1919.5,1486.7 1924.7,1474.2 1929.8,1460.3 1935.0,1457.2 1940.2,1461.3 1945.3,1465.1 1950.5,1468.0 1955.7,1459.9 1960.8,1446.1 1966.0,1455.5 1971.2,1481.1 1976.3,1489.6 1981.5,1477.7 1986.7,1478.0 1991.8,1494.0 1997.0,1498.8 2002.2,1487.7 2007.3,1481.5 2012.5,1486.3 2017.7,1488.4 2022.8,1481.7 2028.0,1480.0 2033.2,1483.6 2038.3,1479.6 2043.5,1478.2 2048.7,1477.5 2053.8,1465.9 2059.0,1455.3 2064.2,1459.2 2069.3,1461.5 2074.5,1458.2 2079.7,1461.3 2084.8,1465.9 2090.0,1463.8 2095.2,1460.5 2100.3,1459.9 2105.5,1464.0 2110.7,1473.8 2112.6,1478.0"/>
<polyline class="ov" points="304.6,1472.7 306.0,1473.7 311.2,1475.8 316.4,1471.0 321.5,1460.2 326.7,1458.5 331.9,1470.0 337.0,1481.4 342.2,1486.2 347.4,1482.0 352.5,1470.6 357.7,1465.0 362.9,1471.0 368.0,1481.4 373.2,1482.0 378.4,1479.9 383.5,1479.5 388.7,1473.3 393.9,1464.3 399.0,1465.8 404.2,1477.2 409.4,1483.5 414.5,1474.1 419.7,1465.4 424.9,1466.4 430.0,1470.2 435.2,1472.5 440.4,1473.9 445.5,1473.7 450.7,1473.3 455.9,1473.3 461.0,1470.2 466.2,1465.4 471.4,1464.8 476.5,1467.9 481.7,1471.0 486.9,1474.7 492.0,1478.7 497.2,1479.9 502.4,1474.3 507.5,1464.3 512.7,1461.9 517.9,1473.7 523.0,1485.6 528.2,1484.5 533.4,1475.0 538.5,1472.0 543.7,1474.7 548.9,1470.2 554.0,1460.6 559.2,1463.7 564.4,1477.2 569.5,1485.6 574.7,1477.2 579.9,1464.6 585.0,1467.5 590.2,1476.4 595.4,1478.1 600.5,1477.2 605.7,1477.2 610.9,1477.9 616.0,1479.3 621.2,1477.9 626.4,1473.9 631.5,1472.7 636.7,1473.1 641.9,1473.7 647.0,1476.8 652.2,1482.0 657.4,1483.7 662.5,1475.4 667.7,1463.3 672.9,1470.2 678.0,1489.9 683.2,1484.7 688.4,1460.2 693.5,1460.2 698.7,1476.4 703.9,1484.3 709.0,1479.9 714.2,1472.7 719.4,1474.3 724.5,1485.8 729.7,1492.4 734.9,1487.2 740.0,1471.6 745.2,1456.0 750.4,1456.2 755.5,1466.4 760.7,1474.3 765.9,1479.9 771.0,1484.5 776.2,1484.1 781.4,1475.2 786.5,1470.4 791.7,1476.4 796.9,1475.8 802.0,1464.8 807.2,1462.9 812.4,1469.1 817.5,1470.0 822.7,1471.6 827.9,1478.5 833.0,1483.1 838.2,1482.4 843.4,1477.9 848.5,1471.6 853.7,1467.7 858.9,1467.7 864.0,1474.3 869.2,1480.4 874.4,1473.1 879.5,1464.8 884.7,1468.1 889.9,1478.3 895.0,1483.7 900.2,1479.9 905.4,1471.0 910.5,1468.5 915.7,1480.6 920.9,1494.3 926.0,1486.2 931.2,1470.6 936.4,1474.7 941.5,1481.4 946.7,1471.6 951.9,1463.7 957.0,1462.7 962.2,1456.7 967.4,1451.2 972.5,1461.2 977.7,1475.2 982.9,1475.8 988.0,1469.8 993.2,1471.6 998.4,1475.2 1003.5,1477.4 1008.7,1482.6 1013.9,1484.7 1019.0,1469.5 1024.2,1452.9 1029.4,1455.0 1034.5,1471.6 1039.7,1485.1 1044.9,1490.1 1050.0,1491.0 1055.2,1483.1 1060.4,1475.0 1065.5,1476.6 1070.7,1477.9 1075.9,1470.2 1081.0,1467.5 1086.2,1474.1 1091.4,1472.0 1096.5,1458.5 1101.7,1454.0 1106.9,1466.8 1112.0,1481.0 1117.2,1482.0 1122.4,1481.4 1127.5,1486.8 1132.7,1485.6 1137.9,1478.3 1143.0,1474.3 1148.2,1471.0 1153.4,1467.7 1158.5,1472.0 1163.7,1476.4 1168.9,1476.4 1174.0,1481.6 1179.2,1487.2 1184.4,1483.7 1189.5,1478.3 1194.7,1473.7 1199.9,1469.4 1205.0,1468.6 1210.2,1472.7 1215.4,1477.2 1220.5,1479.9 1225.7,1474.7 1230.9,1467.9 1236.0,1470.2 1241.2,1475.4 1246.4,1465.4 1251.5,1447.7 1256.7,1438.8 1261.9,1438.4 1267.0,1439.8 1272.2,1445.6 1277.4,1456.0 1282.5,1468.5 1287.7,1490.3 1292.9,1516.8 1298.0,1526.1 1303.2,1524.0 1308.4,1532.6 1313.5,1536.1 1318.7,1505.9 1323.9,1467.5 1329.0,1449.4 1334.2,1448.3 1339.4,1459.2 1344.5,1476.8 1349.7,1491.4 1354.9,1498.7 1360.0,1504.9 1365.2,1500.7 1370.4,1476.8 1375.5,1450.8 1380.7,1438.4 1385.9,1435.9 1391.0,1435.9 1396.2,1437.7 1401.4,1442.5 1406.5,1447.3 1411.7,1454.0 1416.9,1468.5 1422.0,1484.5 1427.2,1497.6 1432.4,1507.4 1437.5,1509.1 1442.7,1498.0 1447.9,1485.6 1453.0,1474.3 1458.2,1464.3 1463.4,1462.3 1468.5,1470.0 1473.7,1473.7 1478.9,1464.3 1484.0,1451.9 1489.2,1445.0 1494.4,1446.7 1499.5,1450.8 1504.7,1455.6 1509.9,1465.0 1515.0,1477.9 1520.2,1491.8 1525.4,1498.7 1530.5,1493.9 1535.7,1492.4 1540.9,1501.4 1546.0,1499.1 1551.2,1485.6 1556.4,1485.4 1561.5,1492.4 1566.7,1483.1 1571.9,1469.1 1577.0,1468.5 1582.2,1471.0 1587.4,1467.5 1592.5,1470.0 1597.7,1475.8 1602.9,1469.1 1608.0,1459.6 1613.2,1459.4 1618.4,1460.8 1623.5,1455.0 1628.7,1452.3 1633.9,1466.4 1639.0,1487.2 1644.2,1498.2 1649.4,1492.4 1654.5,1477.9 1659.7,1470.2 1664.9,1474.3 1670.0,1477.0 1675.2,1473.3 1680.4,1471.2 1685.5,1467.7 1690.7,1462.7 1695.9,1462.3 1701.0,1462.9 1706.2,1459.8 1711.4,1458.5 1716.5,1463.3 1721.7,1468.1 1726.9,1470.0 1732.0,1472.3 1737.2,1473.9 1742.4,1471.6 1747.5,1476.2 1752.7,1491.0 1757.9,1499.7 1763.0,1491.8 1768.2,1484.5 1773.4,1489.3 1778.5,1494.7 1783.7,1489.7 1788.9,1479.9 1794.0,1471.2 1799.2,1471.6 1804.4,1479.9 1809.5,1478.3 1814.7,1467.1 1819.9,1467.5 1825.0,1477.9 1830.2,1479.9 1835.4,1469.5 1840.5,1461.6 1845.7,1463.3 1850.9,1465.0 1856.0,1461.6 1861.2,1459.8 1866.4,1465.4 1871.5,1474.3 1876.7,1475.4 1881.9,1465.4 1887.0,1462.3 1892.2,1475.4 1897.4,1485.6 1902.5,1476.8 1907.7,1470.2 1912.9,1482.6 1918.0,1490.3 1923.2,1483.5 1928.4,1478.5 1933.5,1482.4 1938.7,1487.6 1943.9,1488.3 1949.0,1483.1 1954.2,1473.3 1959.4,1463.7 1964.5,1466.8 1969.7,1475.4 1974.9,1476.8 1980.0,1469.1 1985.2,1461.0 1990.4,1460.4 1995.5,1467.5 2000.7,1471.6 2005.9,1470.2 2011.0,1473.1 2016.2,1479.9 2021.4,1479.9 2026.5,1471.2 2031.7,1471.6 2036.9,1484.1 2042.0,1489.9 2047.2,1484.7 2052.4,1480.6 2057.5,1475.2 2062.7,1470.0 2067.9,1473.7 2073.0,1479.5 2078.2,1475.4 2083.4,1463.9 2088.5,1460.0 2093.7,1467.1 2098.9,1474.7 2104.0,1478.5 2109.2,1478.3 2112.6,1476.8"/>
<polyline class="ov" points="304.6,1473.6 308.0,1471.5 313.1,1469.5 318.3,1473.6 323.5,1478.2 328.6,1477.2 333.8,1473.6 339.0,1470.7 344.1,1471.5 349.3,1474.2 354.5,1472.6 359.6,1470.9 364.8,1475.7 370.0,1480.3 375.1,1479.9 380.3,1474.2 385.5,1470.7 390.6,1470.9 395.8,1471.7 401.0,1472.2 406.1,1475.1 411.3,1478.2 416.5,1477.4 421.6,1474.2 426.8,1474.0 432.0,1476.1 437.1,1475.7 442.3,1473.6 447.5,1472.6 452.6,1473.6 457.8,1473.8 463.0,1472.8 468.1,1473.2 473.3,1475.3 478.5,1474.7 483.6,1472.0 488.8,1471.7 494.0,1473.6 499.1,1475.7 504.3,1477.2 509.5,1475.7 514.6,1472.8 519.8,1472.6 525.0,1475.3 530.1,1476.7 535.3,1475.3 540.5,1474.0 545.6,1475.1 550.8,1476.3 556.0,1476.7 561.1,1475.1 566.3,1472.2 571.5,1472.0 576.6,1473.2 581.8,1474.0 587.0,1474.2 592.1,1474.2 597.3,1474.4 602.5,1474.0 607.6,1472.0 612.8,1468.4 618.0,1467.0 623.1,1467.0 628.3,1467.6 633.5,1470.1 638.6,1476.7 643.8,1484.6 649.0,1486.7 654.1,1480.9 659.3,1473.6 664.5,1469.9 669.6,1470.5 674.8,1476.3 680.0,1482.4 685.1,1483.4 690.3,1478.8 695.5,1470.9 700.6,1463.8 705.8,1463.2 711.0,1468.4 716.1,1473.2 721.3,1477.8 726.5,1482.4 731.6,1481.3 736.8,1474.2 742.0,1468.0 747.1,1466.1 752.3,1467.8 757.5,1473.2 762.6,1480.9 767.8,1482.6 773.0,1476.7 778.1,1470.1 783.3,1468.8 788.5,1474.0 793.6,1479.0 798.8,1479.4 804.0,1477.4 809.1,1475.1 814.3,1473.8 819.5,1474.7 824.6,1475.7 829.8,1474.0 835.0,1469.5 840.2,1468.4 845.3,1472.6 850.5,1476.3 855.7,1473.6 860.8,1468.8 866.0,1467.4 871.2,1469.0 876.3,1470.9 881.5,1470.7 886.7,1468.8 891.8,1467.0 897.0,1465.7 902.2,1462.6 907.3,1458.6 912.5,1460.5 917.7,1468.4 922.8,1479.9 928.0,1486.1 933.2,1497.5 938.3,1514.2 943.5,1528.3 948.7,1531.4 953.8,1522.5 959.0,1500.6 964.2,1471.5 969.3,1445.5 974.5,1425.8 979.7,1412.7 984.8,1413.3 990.0,1427.9 995.2,1449.7 1000.3,1469.5 1005.5,1483.0 1010.7,1491.9 1015.8,1495.0 1021.0,1491.9 1026.2,1483.0 1031.3,1471.5 1036.5,1463.2 1041.7,1460.7 1046.8,1462.8 1052.0,1470.5 1057.2,1485.1 1062.3,1499.2 1067.5,1506.9 1072.7,1507.5 1077.8,1502.3 1083.0,1489.2 1088.2,1472.2 1093.3,1457.0 1098.5,1448.7 1103.7,1444.5 1108.8,1446.6 1114.0,1451.4 1119.2,1456.6 1124.3,1462.2 1129.5,1468.4 1134.7,1474.0 1139.8,1477.8 1145.0,1480.9 1150.2,1483.6 1155.3,1484.6 1160.5,1484.6 1165.7,1487.1 1170.8,1489.2 1176.0,1487.1 1181.2,1484.0 1186.3,1480.9 1191.5,1477.8 1196.7,1473.6 1201.8,1471.3 1207.0,1471.3 1212.2,1472.0 1217.3,1470.1 1222.5,1468.4 1227.7,1468.0 1232.8,1467.4 1238.0,1466.8 1243.2,1467.4 1248.3,1469.9 1253.5,1473.6 1258.7,1476.3 1263.8,1473.2 1269.0,1470.1 1274.2,1470.9 1279.3,1473.6 1284.5,1474.2 1289.7,1473.8 1294.8,1476.7 1300.0,1480.1 1305.2,1480.3 1310.3,1477.4 1315.5,1475.7 1320.7,1476.1 1325.8,1475.9 1331.0,1475.3 1336.2,1474.2 1341.3,1473.2 1346.5,1473.4 1351.7,1472.8 1356.8,1470.5 1362.0,1470.9 1367.2,1475.3 1372.3,1477.8 1377.5,1477.2 1382.7,1476.9 1387.8,1476.7 1393.0,1473.2 1398.2,1470.7 1403.3,1472.2 1408.5,1471.7 1413.7,1468.6 1418.8,1469.5 1424.0,1474.2 1429.2,1475.1 1434.3,1473.2 1439.5,1475.3 1444.7,1478.2 1449.8,1479.0 1455.0,1477.8 1460.2,1475.7 1465.3,1474.0 1470.5,1474.0 1475.7,1476.7 1480.8,1478.0 1486.0,1475.1 1491.2,1471.7 1496.3,1470.9 1501.5,1469.9 1506.7,1468.2 1511.8,1471.5 1517.0,1475.1 1522.2,1474.0 1527.3,1472.6 1532.5,1475.7 1537.7,1479.2 1542.8,1479.9 1548.0,1477.8 1553.2,1475.1 1558.3,1473.0 1563.5,1470.1 1568.7,1467.0 1573.8,1467.2 1579.0,1471.5 1584.2,1474.9 1589.3,1475.7 1594.5,1474.4 1599.7,1471.5 1604.8,1469.7 1610.0,1473.0 1615.2,1476.3 1620.3,1474.7 1625.5,1470.9 1630.7,1469.2 1635.8,1470.3 1641.0,1473.0 1646.2,1477.8 1651.3,1482.6 1656.5,1482.8 1661.7,1480.5 1666.8,1481.1 1672.0,1482.1 1677.2,1481.1 1682.3,1478.8 1687.5,1476.3 1692.7,1474.9 1697.8,1473.6 1703.0,1471.5 1708.2,1468.6 1713.3,1467.6 1718.5,1470.5 1723.7,1473.8 1728.8,1474.0 1734.0,1472.0 1739.2,1470.1 1744.3,1469.0 1749.5,1469.0 1754.7,1469.7 1759.8,1469.2 1765.0,1468.6 1770.2,1469.0 1775.3,1471.1 1780.5,1474.2 1785.7,1477.8 1790.8,1478.2 1796.0,1478.2 1801.2,1480.5 1806.3,1483.0 1811.5,1483.4 1816.7,1480.9 1821.8,1477.4 1827.0,1475.1 1832.2,1474.4 1837.3,1473.6 1842.5,1472.8 1847.7,1473.4 1852.8,1473.2 1858.0,1470.5 1863.2,1468.2 1868.3,1469.9 1873.5,1470.9 1878.7,1469.0 1883.8,1467.6 1889.0,1468.2 1894.2,1468.8 1899.3,1470.9 1904.5,1475.7 1909.7,1477.4 1914.8,1472.6 1920.0,1469.9 1925.2,1475.3 1930.3,1480.3 1935.5,1479.2 1940.7,1477.4 1945.8,1478.4 1951.0,1477.8 1956.2,1474.7 1961.3,1473.8 1966.5,1476.7 1971.7,1478.8 1976.8,1476.3 1982.0,1470.5 1987.2,1467.0 1992.3,1469.9 1997.5,1473.2 2002.7,1472.2 2007.8,1470.3 2013.0,1473.0 2018.2,1475.3 2023.3,1472.2 2028.5,1471.7 2033.7,1475.3 2038.8,1476.7 2044.0,1474.7 2049.2,1474.0 2054.3,1474.2 2059.5,1475.7 2064.7,1478.4 2069.8,1479.6 2075.0,1477.8 2080.2,1475.9 2085.3,1475.9 2090.5,1476.5 2095.7,1475.1 2100.8,1472.0 2106.0,1471.5 2111.2,1474.0 2112.6,1475.7"/>
<polyline class="ov" points="304.6,1477.1 306.2,1476.6 311.3,1475.2 316.5,1473.1 321.7,1474.8 326.8,1476.4 332.0,1470.0 337.2,1468.1 342.3,1475.6 347.5,1477.7 352.7,1474.6 357.8,1476.6 363.0,1475.2 368.2,1469.4 373.3,1466.9 378.5,1471.0 383.7,1478.7 388.8,1483.5 394.0,1480.8 399.2,1474.8 404.3,1473.1 409.5,1474.4 414.7,1474.8 419.8,1474.2 425.0,1473.1 430.2,1472.3 435.3,1474.2 440.5,1479.8 445.7,1480.4 450.8,1473.5 456.0,1470.0 461.2,1474.2 466.3,1479.1 471.5,1478.1 476.7,1470.8 481.8,1465.2 487.0,1470.4 492.2,1477.9 497.3,1477.7 502.5,1473.5 507.7,1471.7 512.8,1471.4 518.0,1472.1 523.2,1477.3 528.3,1484.1 533.5,1481.8 538.7,1470.4 543.8,1466.9 549.0,1476.6 554.2,1481.2 559.3,1473.5 564.5,1466.5 569.7,1466.5 574.8,1469.8 580.0,1474.6 585.2,1476.6 590.3,1475.0 595.5,1472.3 600.7,1471.0 605.8,1472.7 611.0,1477.3 616.2,1478.9 621.3,1470.4 626.5,1461.1 631.7,1462.5 636.8,1471.4 642.0,1479.8 647.2,1482.5 652.3,1475.2 657.5,1464.8 662.7,1463.8 667.8,1473.5 673.0,1485.0 678.2,1489.1 683.3,1483.5 688.5,1475.6 693.7,1467.9 698.8,1464.2 704.0,1464.0 709.2,1461.9 714.3,1460.0 719.5,1466.9 724.7,1478.9 729.8,1482.5 735.0,1474.6 740.2,1471.4 745.3,1476.6 750.5,1478.1 755.7,1472.3 760.8,1467.3 766.0,1469.0 771.2,1475.6 776.3,1475.6 781.5,1469.8 786.7,1467.5 791.8,1474.2 797.0,1485.4 802.2,1491.2 807.3,1492.2 812.5,1492.9 817.7,1490.6 822.8,1480.8 828.0,1470.4 833.2,1467.3 838.4,1470.0 843.5,1471.4 848.7,1473.1 853.9,1480.8 859.0,1485.0 864.2,1478.3 869.4,1473.9 874.5,1479.1 879.7,1486.4 884.9,1490.2 890.0,1489.1 895.2,1478.7 900.4,1466.2 905.5,1456.9 910.7,1448.6 915.9,1437.1 921.0,1424.7 926.2,1416.3 931.4,1425.3 936.5,1442.3 941.7,1462.1 946.9,1479.1 952.0,1486.0 957.2,1479.1 962.4,1467.9 967.5,1464.4 972.7,1471.4 977.9,1482.3 983.0,1488.1 988.2,1491.2 993.4,1498.5 998.5,1507.8 1003.7,1512.6 1008.9,1516.6 1014.0,1520.7 1019.2,1522.0 1024.4,1515.5 1029.5,1505.8 1034.7,1498.5 1039.9,1489.7 1045.0,1475.6 1050.2,1467.9 1055.4,1476.6 1060.5,1487.5 1065.7,1488.1 1070.9,1474.6 1076.0,1462.5 1081.2,1459.0 1086.4,1457.5 1091.5,1449.6 1096.7,1436.5 1101.9,1425.7 1107.0,1419.5 1112.2,1414.3 1117.4,1412.8 1122.5,1419.9 1127.7,1429.9 1132.9,1438.2 1138.0,1449.0 1143.2,1465.2 1148.4,1480.8 1153.5,1489.5 1158.7,1496.0 1163.9,1504.7 1169.0,1516.2 1174.2,1527.6 1179.4,1532.4 1184.5,1525.5 1189.7,1517.2 1194.9,1509.9 1200.0,1495.4 1205.2,1482.4 1210.4,1477.3 1215.5,1472.1 1220.7,1465.2 1225.9,1462.1 1231.0,1459.4 1236.2,1454.0 1241.4,1452.5 1246.5,1460.0 1251.7,1466.2 1256.9,1462.5 1262.0,1454.8 1267.2,1453.8 1272.4,1457.9 1277.5,1460.6 1282.7,1464.8 1287.9,1473.5 1293.0,1482.9 1298.2,1489.7 1303.4,1494.9 1308.5,1495.4 1313.7,1488.1 1318.9,1484.3 1324.0,1483.5 1329.2,1479.1 1334.4,1472.5 1339.5,1472.1 1344.7,1477.3 1349.9,1482.3 1355.0,1482.3 1360.2,1476.2 1365.4,1471.9 1370.5,1469.0 1375.7,1461.7 1380.9,1456.5 1386.0,1456.7 1391.2,1457.1 1396.4,1456.5 1401.5,1461.5 1406.7,1474.2 1411.9,1488.1 1417.0,1492.9 1422.2,1487.0 1427.4,1477.7 1432.5,1474.4 1437.7,1476.0 1442.9,1476.2 1448.0,1473.5 1453.2,1469.4 1458.4,1466.7 1463.5,1469.4 1468.7,1477.3 1473.9,1478.7 1479.0,1470.8 1484.2,1465.2 1489.4,1470.4 1494.5,1477.3 1499.7,1475.6 1504.9,1467.3 1510.0,1463.1 1515.2,1472.5 1520.4,1483.5 1525.5,1483.9 1530.7,1475.6 1535.9,1477.7 1541.0,1486.4 1546.2,1485.0 1551.4,1473.1 1556.5,1467.3 1561.7,1470.4 1566.9,1473.1 1572.0,1473.9 1577.2,1473.7 1582.4,1471.9 1587.5,1468.7 1592.7,1468.3 1597.9,1470.8 1603.0,1472.1 1608.2,1473.1 1613.4,1476.6 1618.5,1478.7 1623.7,1479.8 1628.9,1484.5 1634.0,1489.3 1639.2,1490.4 1644.4,1488.1 1649.5,1482.5 1654.7,1473.5 1659.9,1468.7 1665.0,1470.0 1670.2,1473.1 1675.4,1475.2 1680.5,1471.9 1685.7,1464.6 1690.9,1464.2 1696.0,1471.0 1701.2,1472.5 1706.4,1467.3 1711.5,1466.2 1716.7,1469.4 1721.9,1467.5 1727.0,1460.0 1732.2,1456.9 1737.4,1465.2 1742.5,1474.2 1747.7,1476.2 1752.9,1474.2 1758.0,1475.0 1763.2,1474.4 1768.4,1471.4 1773.5,1472.7 1778.7,1477.3 1783.9,1476.2 1789.0,1474.2 1794.2,1477.7 1799.4,1482.3 1804.5,1487.0 1809.7,1489.7 1814.9,1489.1 1820.0,1486.4 1825.2,1485.2 1830.4,1486.0 1835.5,1484.3 1840.7,1476.6 1845.9,1470.4 1851.0,1472.1 1856.2,1476.2 1861.4,1474.2 1866.5,1466.9 1871.7,1461.3 1876.9,1462.5 1882.0,1465.2 1887.2,1463.1 1892.4,1456.5 1897.5,1454.4 1902.7,1462.1 1907.9,1471.4 1913.0,1473.5 1918.2,1473.9 1923.4,1478.7 1928.5,1483.5 1933.7,1484.5 1938.9,1482.5 1944.0,1481.0 1949.2,1480.4 1954.4,1479.6 1959.5,1480.8 1964.7,1481.8 1969.9,1479.1 1975.0,1479.8 1980.2,1481.8 1985.4,1480.4 1990.5,1474.2 1995.7,1463.1 2000.9,1456.5 2006.0,1459.6 2011.2,1462.1 2016.4,1458.1 2021.5,1459.0 2026.7,1468.7 2031.9,1475.6 2037.0,1471.0 2042.2,1471.4 2047.4,1482.3 2052.5,1490.2 2057.7,1490.4 2062.9,1490.2 2068.0,1488.7 2073.2,1484.5 2078.4,1482.3 2083.5,1485.4 2088.7,1481.8 2093.9,1468.3 2099.0,1463.8 2104.2,1476.2 2109.4,1482.9 2112.6,1478.7"/>
<polyline class="ov" points="304.6,1476.6 307.2,1477.6 312.3,1468.2 317.5,1466.2 322.7,1478.0 327.8,1479.1 333.0,1465.3 338.2,1465.3 343.3,1477.0 348.5,1477.2 353.7,1475.5 358.8,1483.0 364.0,1485.9 369.2,1479.1 374.3,1469.9 379.5,1462.2 384.7,1464.7 389.8,1471.8 395.0,1472.4 400.2,1474.1 405.3,1481.8 410.5,1487.2 415.7,1478.6 420.8,1464.7 426.0,1468.2 431.2,1483.4 436.3,1478.6 441.5,1465.1 446.7,1467.6 451.8,1477.2 457.0,1476.1 462.2,1469.9 467.3,1466.2 472.5,1466.8 477.7,1473.4 482.8,1473.0 488.0,1465.5 493.2,1468.2 498.3,1474.5 503.5,1473.0 508.7,1473.4 513.8,1477.0 519.0,1478.2 524.2,1480.3 529.3,1482.2 534.5,1477.6 539.7,1472.8 544.8,1473.4 550.0,1475.1 555.2,1469.9 560.3,1467.6 565.5,1479.1 570.7,1490.3 575.8,1489.2 581.0,1485.5 586.2,1481.8 591.3,1471.4 596.5,1457.8 601.7,1456.8 606.8,1467.8 612.0,1469.9 617.2,1462.4 622.3,1466.2 627.5,1477.0 632.7,1481.1 637.8,1487.0 643.0,1497.1 648.2,1497.4 653.3,1481.8 658.5,1466.8 663.7,1465.7 668.8,1470.3 674.0,1472.0 679.2,1479.1 684.3,1489.7 689.5,1487.0 694.7,1466.2 699.8,1453.5 705.0,1466.2 710.2,1478.2 715.3,1480.3 720.5,1481.8 725.7,1474.1 730.8,1466.0 736.0,1469.9 741.2,1472.6 746.3,1465.1 751.5,1463.5 756.7,1474.5 761.8,1486.5 767.0,1493.2 772.2,1492.2 777.3,1488.0 782.5,1483.4 787.7,1473.4 792.8,1464.7 798.0,1471.4 803.2,1482.2 808.3,1479.7 813.5,1468.9 818.7,1460.5 823.8,1459.7 829.0,1464.1 834.2,1466.6 839.4,1467.0 844.5,1468.2 849.7,1474.5 854.9,1485.5 860.0,1488.4 865.2,1480.7 870.4,1475.5 875.5,1476.8 880.7,1482.4 885.9,1479.1 891.0,1464.1 896.2,1455.8 901.4,1458.3 906.5,1454.3 911.7,1450.6 916.9,1468.2 922.0,1481.8 927.2,1485.9 932.4,1485.5 937.5,1497.4 942.7,1508.4 947.9,1499.4 953.0,1473.4 958.2,1445.4 963.4,1426.6 968.5,1420.0 973.7,1420.8 978.9,1434.3 984.0,1466.2 989.2,1497.8 994.4,1498.2 999.5,1487.0 1004.7,1488.2 1009.9,1489.0 1015.0,1477.6 1020.2,1469.7 1025.4,1472.0 1030.5,1480.7 1035.7,1491.7 1040.9,1494.2 1046.0,1500.1 1051.2,1523.3 1056.4,1536.2 1061.5,1511.9 1066.7,1479.1 1071.9,1469.9 1077.0,1472.4 1082.2,1450.6 1087.4,1429.1 1092.5,1437.5 1097.7,1453.1 1102.9,1449.5 1108.0,1446.8 1113.2,1455.3 1118.4,1458.5 1123.5,1453.7 1128.7,1448.9 1133.9,1442.7 1139.0,1443.5 1144.2,1468.2 1149.4,1502.1 1154.5,1508.2 1159.7,1493.6 1164.9,1486.3 1170.0,1494.2 1175.2,1508.2 1180.4,1508.2 1185.5,1489.0 1190.7,1478.0 1195.9,1482.2 1201.0,1488.4 1206.2,1482.1 1211.4,1467.2 1216.5,1461.0 1221.7,1473.4 1226.9,1485.5 1232.0,1477.2 1237.2,1463.5 1242.4,1458.5 1247.5,1453.1 1252.7,1452.6 1257.9,1462.4 1263.0,1466.8 1268.2,1462.0 1273.4,1462.6 1278.5,1467.0 1283.7,1466.2 1288.9,1471.4 1294.0,1484.9 1299.2,1490.1 1304.4,1491.7 1309.5,1495.7 1314.7,1488.0 1319.9,1472.8 1325.0,1467.6 1330.2,1472.4 1335.4,1473.9 1340.5,1473.6 1345.7,1472.0 1350.9,1468.2 1356.0,1470.9 1361.2,1477.2 1366.4,1474.5 1371.5,1465.7 1376.7,1461.2 1381.9,1462.0 1387.0,1458.5 1392.2,1454.7 1397.4,1464.1 1402.5,1479.1 1407.7,1480.1 1412.9,1477.8 1418.0,1492.8 1423.2,1508.0 1428.4,1499.8 1433.5,1487.6 1438.7,1488.0 1443.9,1490.7 1449.0,1479.1 1454.2,1464.7 1459.4,1468.7 1464.5,1480.7 1469.7,1477.2 1474.9,1464.7 1480.0,1463.7 1485.2,1475.5 1490.4,1480.3 1495.5,1470.7 1500.7,1464.3 1505.9,1465.5 1511.0,1468.9 1516.2,1475.9 1521.4,1476.1 1526.5,1464.5 1531.7,1460.8 1536.9,1474.5 1542.0,1488.6 1547.2,1489.4 1552.4,1482.8 1557.5,1479.3 1562.7,1480.7 1567.9,1484.9 1573.0,1486.5 1578.2,1478.6 1583.4,1460.5 1588.5,1447.9 1593.7,1458.9 1598.9,1482.8 1604.0,1493.2 1609.2,1482.8 1614.4,1468.2 1619.5,1459.3 1624.7,1466.2 1629.9,1480.3 1635.0,1479.9 1640.2,1470.9 1645.4,1472.4 1650.5,1479.1 1655.7,1477.2 1660.9,1468.7 1666.0,1466.2 1671.2,1473.9 1676.4,1482.4 1681.5,1481.8 1686.7,1475.1 1691.9,1472.0 1697.0,1470.9 1702.2,1462.4 1707.4,1453.9 1712.5,1461.0 1717.7,1473.9 1722.9,1474.1 1728.0,1462.6 1733.2,1458.0 1738.4,1468.9 1743.5,1482.2 1748.7,1478.6 1753.9,1462.6 1759.0,1459.7 1764.2,1471.8 1769.4,1483.8 1774.5,1490.1 1779.7,1489.0 1784.9,1477.2 1790.0,1468.7 1795.2,1478.6 1800.4,1487.6 1805.5,1479.1 1810.7,1471.4 1815.9,1472.4 1821.0,1468.2 1826.2,1461.6 1831.4,1462.0 1836.5,1472.0 1841.7,1484.5 1846.9,1484.0 1852.0,1466.2 1857.2,1458.0 1862.4,1473.0 1867.5,1486.5 1872.7,1484.2 1877.9,1476.6 1883.0,1466.6 1888.2,1464.1 1893.4,1471.4 1898.5,1475.9 1903.7,1471.4 1908.9,1464.5 1914.0,1472.0 1919.2,1493.2 1924.4,1502.5 1929.5,1488.0 1934.7,1474.9 1939.9,1475.1 1945.0,1477.6 1950.2,1473.6 1955.4,1467.2 1960.5,1468.9 1965.7,1476.6 1970.9,1481.1 1976.0,1477.6 1981.2,1465.1 1986.4,1454.1 1991.5,1461.0 1996.7,1473.9 2001.9,1478.8 2007.0,1478.0 2012.2,1469.9 2017.4,1456.4 2022.5,1464.7 2027.7,1496.3 2032.9,1499.6 2038.0,1466.6 2043.2,1457.4 2048.4,1483.2 2053.5,1491.7 2058.7,1474.5 2063.9,1470.9 2069.0,1487.4 2074.2,1488.6 2079.4,1473.4 2084.5,1462.4 2089.7,1458.9 2094.9,1464.5 2100.0,1476.1 2105.2,1482.8 2110.4,1479.7 2112.6,1475.5"/>
<polyline class="ov" points="304.6,1471.7 307.9,1472.3 313.0,1475.8 318.2,1476.5 323.4,1475.0 328.5,1472.9 333.7,1470.9 338.9,1472.3 344.0,1476.9 349.2,1477.5 354.4,1472.7 359.5,1470.9 364.7,1472.9 369.9,1474.4 375.0,1473.8 380.2,1473.1 385.4,1472.9 390.5,1472.9 395.7,1474.0 400.9,1476.7 406.0,1476.9 411.2,1473.3 416.4,1472.5 421.5,1475.0 426.7,1477.5 431.9,1479.0 437.0,1477.1 442.2,1470.6 447.4,1468.8 452.5,1474.8 457.7,1477.1 462.9,1473.8 468.0,1474.6 473.2,1475.0 478.4,1468.1 483.5,1464.4 488.7,1470.6 493.9,1477.1 499.0,1475.8 504.2,1475.4 509.4,1479.0 514.5,1480.6 519.7,1478.5 524.9,1474.0 530.0,1469.6 535.2,1468.8 540.4,1470.6 545.5,1473.3 550.7,1478.5 555.9,1479.6 561.0,1472.7 566.2,1468.8 571.4,1471.9 576.5,1475.4 581.7,1476.1 586.9,1473.3 592.0,1471.3 597.2,1471.3 602.4,1472.7 607.5,1474.6 612.7,1476.5 617.9,1477.9 623.0,1476.1 628.2,1472.9 633.4,1472.7 638.5,1472.5 643.7,1471.3 648.9,1472.3 654.0,1475.0 659.2,1476.1 664.4,1475.8 669.5,1475.4 674.7,1475.2 679.9,1474.8 685.0,1473.6 690.2,1472.1 695.4,1473.6 700.5,1478.5 705.7,1479.8 710.9,1477.1 716.0,1474.4 721.2,1474.6 726.4,1477.5 731.5,1477.9 736.7,1473.8 741.9,1468.8 747.0,1465.7 752.2,1462.5 757.4,1461.4 762.5,1466.1 767.7,1474.8 772.9,1479.0 778.0,1475.0 783.2,1467.1 788.4,1467.5 793.5,1476.1 798.7,1483.1 803.9,1482.9 809.0,1482.3 814.2,1480.6 819.4,1475.0 824.5,1467.7 829.7,1467.5 834.9,1472.7 840.1,1478.5 845.2,1483.1 850.4,1485.4 855.6,1482.7 860.7,1477.1 865.9,1469.8 871.1,1462.5 876.2,1460.0 881.4,1464.6 886.6,1473.3 891.7,1477.5 896.9,1473.3 902.1,1469.2 907.2,1470.9 912.4,1474.0 917.6,1474.8 922.7,1474.8 927.9,1475.4 933.1,1477.5 938.2,1480.6 943.4,1482.3 948.6,1478.5 953.7,1474.4 958.9,1472.7 964.1,1472.1 969.2,1472.3 974.4,1474.8 979.6,1477.1 984.7,1473.3 989.9,1466.7 995.1,1463.6 1000.2,1463.6 1005.4,1467.1 1010.6,1470.2 1015.7,1467.1 1020.9,1461.3 1026.1,1459.4 1031.2,1460.2 1036.4,1461.9 1041.6,1466.1 1046.7,1472.3 1051.9,1485.8 1057.1,1506.6 1062.2,1525.3 1067.4,1535.7 1072.6,1529.5 1077.7,1511.8 1082.9,1480.6 1088.1,1449.4 1093.2,1427.2 1098.4,1419.3 1103.6,1426.6 1108.7,1444.2 1113.9,1468.1 1119.1,1488.9 1124.2,1500.0 1129.4,1500.4 1134.6,1495.2 1139.7,1484.8 1144.9,1472.3 1150.1,1459.8 1155.2,1449.4 1160.4,1441.1 1165.6,1437.4 1170.7,1446.3 1175.9,1465.0 1181.1,1485.8 1186.2,1504.5 1191.4,1511.4 1196.6,1507.7 1201.7,1498.3 1206.9,1484.3 1212.1,1470.2 1217.2,1456.7 1222.4,1448.4 1227.6,1446.9 1232.7,1451.5 1237.9,1460.5 1243.1,1471.7 1248.2,1482.1 1253.4,1487.9 1258.6,1491.0 1263.7,1490.6 1268.9,1485.4 1274.1,1476.5 1279.2,1468.1 1284.4,1462.5 1289.6,1460.9 1294.7,1462.9 1299.9,1471.3 1305.1,1481.7 1310.2,1487.5 1315.4,1487.1 1320.6,1486.4 1325.7,1486.9 1330.9,1481.0 1336.1,1472.3 1341.2,1467.3 1346.4,1465.4 1351.6,1462.5 1356.7,1461.7 1361.9,1465.0 1367.1,1468.1 1372.2,1471.7 1377.4,1479.6 1382.6,1485.4 1387.7,1482.7 1392.9,1477.1 1398.1,1472.7 1403.2,1469.8 1408.4,1469.6 1413.6,1471.7 1418.7,1470.9 1423.9,1470.9 1429.1,1475.0 1434.2,1480.6 1439.4,1484.0 1444.6,1483.1 1449.7,1480.2 1454.9,1478.5 1460.1,1477.1 1465.2,1472.3 1470.4,1466.7 1475.6,1463.6 1480.7,1462.5 1485.9,1463.4 1491.1,1465.7 1496.2,1466.7 1501.4,1466.7 1506.6,1468.8 1511.7,1474.4 1516.9,1478.5 1522.1,1477.1 1527.2,1476.1 1532.4,1479.6 1537.6,1482.1 1542.7,1479.6 1547.9,1477.5 1553.1,1480.0 1558.2,1482.3 1563.4,1482.1 1568.6,1479.0 1573.7,1475.8 1578.9,1475.0 1584.1,1476.9 1589.2,1477.7 1594.4,1475.4 1599.6,1471.3 1604.7,1469.0 1609.9,1470.9 1615.1,1473.1 1620.2,1473.3 1625.4,1471.3 1630.6,1469.0 1635.7,1468.8 1640.9,1469.6 1646.1,1470.4 1651.2,1471.1 1656.4,1471.5 1661.6,1471.5 1666.7,1473.3 1671.9,1475.0 1677.1,1476.1 1682.2,1478.1 1687.4,1478.3 1692.6,1475.0 1697.7,1471.9 1702.9,1470.2 1708.1,1468.1 1713.2,1467.3 1718.4,1469.0 1723.6,1472.9 1728.7,1477.1 1733.9,1476.9 1739.1,1476.3 1744.2,1479.0 1749.4,1480.2 1754.6,1477.5 1759.7,1475.4 1764.9,1474.4 1770.1,1471.7 1775.2,1467.7 1780.4,1469.2 1785.6,1472.7 1790.7,1473.3 1795.9,1475.4 1801.1,1481.0 1806.2,1481.9 1811.4,1477.5 1816.6,1476.9 1821.7,1478.5 1826.9,1477.5 1832.1,1475.0 1837.2,1472.3 1842.4,1471.3 1847.6,1473.3 1852.7,1475.8 1857.9,1475.4 1863.1,1475.8 1868.2,1478.5 1873.4,1479.2 1878.6,1475.4 1883.7,1472.9 1888.9,1470.9 1894.1,1466.1 1899.2,1462.3 1904.4,1462.9 1909.6,1466.1 1914.7,1468.1 1919.9,1469.8 1925.1,1473.8 1930.2,1477.9 1935.4,1479.0 1940.6,1477.9 1945.7,1479.2 1950.9,1481.7 1956.1,1482.5 1961.2,1481.2 1966.4,1478.1 1971.6,1475.4 1976.7,1477.1 1981.9,1477.9 1987.1,1475.0 1992.2,1472.3 1997.4,1472.5 2002.6,1473.3 2007.7,1472.7 2012.9,1470.9 2018.1,1468.4 2023.2,1468.1 2028.4,1469.6 2033.6,1468.8 2038.7,1468.4 2043.9,1470.9 2049.1,1474.0 2054.2,1475.0 2059.4,1474.8 2064.6,1475.8 2069.7,1476.9 2074.9,1475.8 2080.1,1474.0 2085.2,1474.2 2090.4,1475.4 2095.6,1476.1 2100.7,1476.5 2105.9,1477.9 2111.1,1479.6 2112.6,1480.2"/>
<polyline class="bl" points="304.6,1470.3 312.2,1479.4 317.4,1478.4 322.5,1471.7 327.7,1471.9 332.9,1481.1 338.0,1484.6 343.2,1475.2 348.4,1468.4 353.5,1472.8 358.7,1474.8 363.9,1468.6 369.0,1466.9 374.2,1470.7 379.4,1473.2 384.5,1471.9 389.7,1466.9 394.9,1464.4 400.0,1471.7 405.2,1480.0 410.4,1479.4 415.5,1473.2 420.7,1472.1 425.9,1474.8 431.0,1477.3 436.2,1478.8 441.4,1478.2 446.5,1479.8 451.7,1481.1 456.9,1475.2 462.0,1469.4 467.2,1471.7 472.4,1473.6 477.5,1468.6 482.7,1466.9 487.9,1471.7 493.0,1473.6 498.2,1469.2 503.4,1467.8 508.5,1474.6 513.7,1481.5 518.9,1478.8 524.0,1470.0 529.2,1465.7 534.4,1468.6 539.5,1472.1 544.7,1473.2 549.9,1476.3 555.0,1479.8 560.2,1479.8 565.4,1478.8 570.5,1477.3 575.7,1470.7 580.9,1463.8 586.0,1467.6 591.2,1478.4 596.4,1482.9 601.5,1480.0 606.7,1476.9 611.9,1475.2 617.0,1472.8 622.2,1472.1 627.4,1474.0 632.5,1471.7 637.7,1469.8 642.9,1475.7 648.0,1481.9 653.2,1478.4 658.4,1468.6 663.5,1467.3 668.7,1474.8 673.9,1478.0 679.0,1477.5 684.2,1484.6 689.4,1487.7 694.5,1475.9 699.7,1464.2 704.9,1464.6 710.0,1470.0 715.2,1474.8 720.4,1478.4 725.5,1482.1 730.7,1488.3 735.9,1491.1 741.0,1480.4 746.2,1466.9 751.4,1458.0 756.5,1455.5 761.7,1463.2 766.9,1478.8 772.0,1484.2 777.2,1479.8 782.4,1475.9 787.5,1470.5 792.7,1464.0 797.9,1465.3 803.0,1471.1 808.2,1479.0 813.4,1489.4 818.5,1494.4 823.7,1486.1 828.9,1471.7 834.0,1462.1 839.2,1461.1 844.4,1464.2 849.5,1468.4 854.7,1475.9 859.9,1484.8 865.0,1484.2 870.2,1473.8 875.4,1463.6 880.5,1467.3 885.7,1480.9 890.9,1485.2 896.0,1476.9 901.2,1471.5 906.4,1472.5 911.5,1473.0 916.7,1474.0 921.9,1474.8 927.0,1470.7 932.2,1471.3 937.4,1481.5 942.5,1485.9 947.7,1473.8 952.9,1461.5 958.0,1462.8 963.2,1471.1 968.4,1476.5 973.5,1479.4 978.7,1479.4 983.9,1475.9 989.0,1471.5 994.2,1471.1 999.4,1470.7 1004.5,1466.3 1009.7,1462.1 1014.9,1464.4 1020.0,1472.1 1025.2,1475.5 1030.4,1471.3 1035.5,1471.1 1040.7,1480.2 1045.9,1483.8 1051.0,1478.0 1056.2,1471.7 1061.4,1465.7 1066.5,1464.0 1071.7,1473.2 1076.9,1486.7 1082.0,1491.1 1087.2,1488.8 1092.4,1486.3 1097.5,1481.1 1102.7,1475.7 1107.9,1471.7 1113.0,1467.3 1118.2,1463.0 1123.4,1463.8 1128.5,1474.6 1133.7,1485.0 1138.9,1482.5 1144.0,1478.8 1149.2,1476.3 1154.4,1464.6 1159.5,1463.2 1164.7,1472.3 1169.9,1479.0 1175.0,1474.6 1180.2,1465.3 1185.4,1464.4 1190.5,1471.1 1195.7,1473.8 1200.9,1470.7 1206.0,1467.6 1211.2,1467.1 1216.4,1469.8 1221.5,1474.6 1226.7,1478.2 1231.9,1481.5 1237.0,1485.9 1242.2,1491.3 1247.4,1497.7 1252.5,1499.2 1257.7,1489.4 1262.9,1478.6 1268.0,1473.6 1273.2,1470.7 1278.4,1465.9 1283.5,1456.5 1288.7,1446.6 1293.9,1441.1 1299.0,1440.9 1304.2,1441.4 1309.4,1442.8 1314.5,1454.5 1319.7,1472.1 1324.9,1487.3 1330.0,1496.5 1335.2,1506.0 1340.4,1518.9 1345.5,1530.4 1350.7,1534.9 1355.9,1531.4 1361.0,1521.0 1366.2,1505.4 1371.4,1489.8 1376.5,1475.2 1381.7,1459.7 1386.9,1440.9 1392.0,1425.3 1397.2,1423.7 1402.4,1433.2 1407.5,1435.9 1412.7,1434.9 1417.9,1441.6 1423.0,1447.4 1428.2,1444.9 1433.4,1443.6 1438.5,1447.4 1443.7,1448.0 1448.9,1449.9 1454.0,1462.4 1459.2,1475.9 1464.4,1485.6 1469.5,1499.2 1474.7,1513.7 1479.9,1522.4 1485.0,1528.3 1490.2,1534.1 1495.4,1535.8 1500.5,1528.9 1505.7,1517.9 1510.9,1507.5 1516.0,1497.1 1521.2,1485.2 1526.4,1464.8 1531.5,1440.3 1536.7,1424.7 1541.9,1422.8 1547.0,1427.6 1552.2,1430.7 1557.4,1432.4 1562.5,1436.2 1567.7,1450.3 1572.9,1472.1 1578.0,1487.7 1583.2,1490.6 1588.4,1485.6 1593.5,1478.0 1598.7,1470.0 1603.9,1463.4 1609.0,1459.9 1614.2,1462.8 1619.4,1468.0 1624.5,1470.7 1629.7,1474.6 1634.9,1482.5 1640.0,1492.5 1645.2,1502.3 1650.4,1500.8 1655.5,1487.7 1660.7,1475.9 1665.9,1477.3 1671.0,1482.1 1676.2,1479.4 1681.4,1476.5 1686.5,1481.9 1691.7,1486.9 1696.9,1484.8 1702.0,1479.4 1707.2,1471.5 1712.4,1461.1 1717.5,1452.4 1722.7,1453.4 1727.9,1463.4 1733.0,1471.7 1738.2,1474.0 1743.4,1477.3 1748.5,1480.9 1753.7,1479.6 1758.9,1473.8 1764.0,1466.9 1769.2,1465.3 1774.4,1471.1 1779.5,1481.1 1784.7,1489.8 1789.9,1489.8 1795.0,1486.7 1800.2,1486.1 1805.4,1483.6 1810.5,1475.2 1815.7,1469.4 1820.9,1468.2 1826.0,1470.0 1831.2,1472.3 1836.4,1470.5 1841.5,1464.2 1846.7,1463.2 1851.9,1469.0 1857.0,1473.8 1862.2,1476.7 1867.4,1482.1 1872.5,1487.3 1877.7,1486.7 1882.9,1484.8 1888.0,1483.1 1893.2,1479.0 1898.4,1474.2 1903.5,1477.7 1908.7,1485.6 1913.9,1484.0 1919.0,1471.7 1924.2,1466.1 1929.4,1466.3 1934.5,1458.2 1939.7,1448.8 1944.9,1450.3 1950.0,1456.5 1955.2,1462.8 1960.4,1467.3 1965.5,1469.6 1970.7,1471.1 1975.9,1473.8 1981.0,1478.4 1986.2,1482.9 1991.4,1484.8 1996.5,1486.1 2001.7,1486.9 2006.9,1482.1 2012.0,1474.8 2017.2,1471.9 2022.4,1471.5 2027.5,1468.0 2032.7,1460.9 2037.9,1461.7 2043.0,1468.6 2048.2,1469.2 2053.4,1467.3 2058.5,1469.4 2063.7,1470.7 2068.9,1470.7 2074.0,1473.6 2079.2,1475.9 2084.4,1476.5 2089.5,1479.6 2094.7,1481.1 2099.9,1474.6 2105.0,1468.0 2110.2,1467.8 2112.6,1470.0"/>
<text class="lb" x="325.0" y="227.9">606600129 | 1.00</text>
<text class="lb" x="325.0" y="340.0">1141470 | 0.84</text>
<text class="lb" x="325.0" y="452.1">1136368 | 0.81</text>
<text class="lb" x="325.0" y="564.2">1346612 | 0.80</text>
<text class="lb" x="325.0" y="676.3">1110373 | 0.79</text>
<text class="lb" x="325.0" y="788.4">1132713 | 0.79</text>
<text class="lb" x="325.0" y="900.4">1138733 | 0.78</text>
<text class="lb" x="325.0" y="1012.5">1115626 | 0.78</text>
<text class="lb" x="325.0" y="1124.6">1125517 | 0.77</text>
<text class="lb" x="325.0" y="1236.7">1139526 | 0.77</text>
<text class="lb" x="325.0" y="1348.8">1136833 | 0.77</text>
<path class="rm" d="M665.7,213.1v55.8"/>
<path class="gm" d="M1285.6,213.1v55.8"/>
<path class="gm" d="M926.4,325.2v55.8"/>
<path class="gm" d="M1262.5,437.3v55.8"/>
<path class="gm" d="M967.4,549.4v55.8"/>
<path class="gm" d="M1050.8,661.5v55.8"/>
<path class="gm" d="M1015.2,773.6v55.8"/>
<path class="gm" d="M1287.7,885.6v55.8"/>
<path class="gm" d="M922.9,997.7v55.8"/>
<path class="gm" d="M921.0,1109.8v55.8"/>
<path class="gm" d="M922.0,1221.9v55.8"/>
<path class="gm" d="M1046.7,1334.0v55.8"/>
</g>
</svg></body></html>
